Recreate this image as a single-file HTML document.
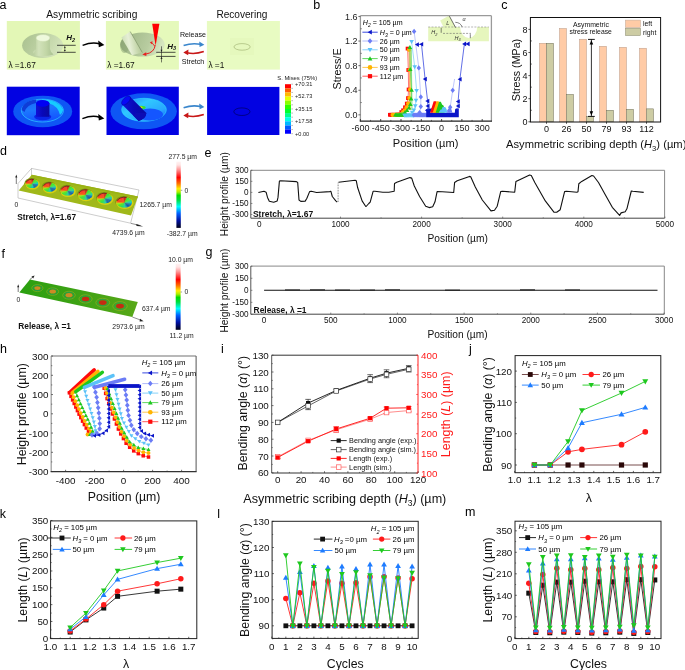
<!DOCTYPE html>
<html><head><meta charset="utf-8"><style>
html,body{margin:0;padding:0;background:#fff;}
svg{display:block;will-change:transform;}
text{font-family:"Liberation Sans", sans-serif;}
</style></head><body>
<svg width="685" height="670" viewBox="0 0 685 670">
<rect width="685" height="670" fill="#fff"/>
<text x="-0.5" y="9" font-size="12.5">a</text>
<text x="313.3" y="8.8" font-size="12.5">b</text>
<text x="501.2" y="9" font-size="12.5">c</text>
<text x="0" y="154.6" font-size="12.5">d</text>
<text x="204.5" y="156.9" font-size="12.5">e</text>
<text x="1.5" y="257.8" font-size="12.5">f</text>
<text x="205.6" y="256.2" font-size="12.5">g</text>
<text x="0" y="352.8" font-size="12.5">h</text>
<text x="221" y="352.8" font-size="12.5">i</text>
<text x="469" y="352.8" font-size="12.5">j</text>
<text x="-0.2" y="517.5" font-size="12.5">k</text>
<text x="217.2" y="517.5" font-size="12.5">l</text>
<text x="465" y="515.8" font-size="12.5">m</text>
<path d="M428.2,27 L460.2,27 A8.5,11 0 0 0 477.2,27 L488.9,27 L488.9,41.3 L428.2,41.3 Z" fill="#e6f6bd"/>
<polygon points="440.2,20.6 449.2,15.6 458.5,33.2 446.5,33.2" fill="#e6f6bd"/>
<line x1="428.2" y1="27" x2="488.9" y2="27" stroke="#888" stroke-width="0.6" stroke-dasharray="2,1.3"/>
<line x1="443" y1="33.4" x2="471" y2="33.4" stroke="#666" stroke-width="0.6" stroke-dasharray="2,1.3"/>
<line x1="449.2" y1="15.8" x2="455.6" y2="27.6" stroke="#333" stroke-width="0.7"/>
<path d="M455.3,22.3 Q460.5,22.5 462.2,27" fill="none" stroke="#333" stroke-width="0.6"/>
<text x="446.2" y="24.8" font-size="5.5" fill="#333" font-style="italic">L</text>
<text x="462.6" y="21.2" font-size="5.5" fill="#333" font-style="italic">α</text>
<text x="431.2" y="34.3" font-size="5.5" font-style="italic" fill="#333">H<tspan font-size="3.8" dy="1.3">2</tspan></text>
<line x1="441.2" y1="27.8" x2="441.2" y2="32.8" stroke="#333" stroke-width="0.6"/>
<text x="454.6" y="39.8" font-size="5.5" font-style="italic" fill="#333">H<tspan font-size="3.8" dy="1.3">3</tspan></text>
<line x1="470.3" y1="34.2" x2="470.3" y2="38.2" stroke="#333" stroke-width="0.6"/>
<polyline points="389.7,114.8 401.3,112.1 403.1,110.3 405,107.3 406.8,103.6 408,98.1 408.6,89.5 408.3,70 407.6,48.6 409.2,49 409.6,110" fill="none" stroke="#ff5a5a" stroke-width="0.8" stroke-linejoin="round"/>
<rect x="388" y="112.9" width="3.8" height="3.8" fill="#ff0a0a"/>
<rect x="389.3" y="112.9" width="3.8" height="3.8" fill="#ff0a0a"/>
<rect x="390.6" y="112.9" width="3.8" height="3.8" fill="#ff0a0a"/>
<rect x="391.9" y="112.9" width="3.8" height="3.8" fill="#ff0a0a"/>
<rect x="393.2" y="112.9" width="3.8" height="3.8" fill="#ff0a0a"/>
<rect x="394.5" y="112.9" width="3.8" height="3.8" fill="#ff0a0a"/>
<rect x="395.8" y="112.9" width="3.8" height="3.8" fill="#ff0a0a"/>
<rect x="397.1" y="112.9" width="3.8" height="3.8" fill="#ff0a0a"/>
<rect x="398.4" y="112.9" width="3.8" height="3.8" fill="#ff0a0a"/>
<rect x="399.4" y="110.2" width="3.8" height="3.8" fill="#ff0a0a"/>
<rect x="401.2" y="108.4" width="3.8" height="3.8" fill="#ff0a0a"/>
<rect x="403.1" y="105.4" width="3.8" height="3.8" fill="#ff0a0a"/>
<rect x="404.9" y="101.7" width="3.8" height="3.8" fill="#ff0a0a"/>
<rect x="406.1" y="96.2" width="3.8" height="3.8" fill="#ff0a0a"/>
<rect x="406.7" y="87.6" width="3.8" height="3.8" fill="#ff0a0a"/>
<rect x="406.4" y="68.1" width="3.8" height="3.8" fill="#ff0a0a"/>
<rect x="405.7" y="46.7" width="3.8" height="3.8" fill="#ff0a0a"/>
<polyline points="392.4,114.8 403,112.1 404.8,110.3 406.6,107.3 408.2,103.6 409.3,98.1 410,89.5 409.6,70 409,49.8 410.3,50.5 410.8,110" fill="none" stroke="#ffc850" stroke-width="0.8" stroke-linejoin="round"/>
<circle cx="392.6" cy="114.9" r="2.09" fill="#ffb400"/>
<circle cx="393.9" cy="114.9" r="2.09" fill="#ffb400"/>
<circle cx="395.2" cy="114.9" r="2.09" fill="#ffb400"/>
<circle cx="396.5" cy="114.9" r="2.09" fill="#ffb400"/>
<circle cx="397.8" cy="114.9" r="2.09" fill="#ffb400"/>
<circle cx="399.1" cy="114.9" r="2.09" fill="#ffb400"/>
<circle cx="400.4" cy="114.9" r="2.09" fill="#ffb400"/>
<circle cx="401.7" cy="114.9" r="2.09" fill="#ffb400"/>
<circle cx="403" cy="112.1" r="2.09" fill="#ffb400"/>
<circle cx="404.8" cy="110.3" r="2.09" fill="#ffb400"/>
<circle cx="406.6" cy="107.3" r="2.09" fill="#ffb400"/>
<circle cx="408.2" cy="103.6" r="2.09" fill="#ffb400"/>
<circle cx="409.3" cy="98.1" r="2.09" fill="#ffb400"/>
<circle cx="410" cy="89.5" r="2.09" fill="#ffb400"/>
<circle cx="409.6" cy="70" r="2.09" fill="#ffb400"/>
<circle cx="409" cy="49.8" r="2.09" fill="#ffb400"/>
<polyline points="395,114.8 405,112.2 407,110.2 409,107.9 410.4,104.2 411.1,98.7 411.6,90.1 410.2,69.3 409.9,47.3 411.2,48 412,110" fill="none" stroke="#60d860" stroke-width="0.8" stroke-linejoin="round"/>
<polygon points="395.4,112.6 397.7,116.6 393.1,116.6" fill="#1ec81e"/>
<polygon points="396.7,112.6 399,116.6 394.4,116.6" fill="#1ec81e"/>
<polygon points="398,112.6 400.3,116.6 395.7,116.6" fill="#1ec81e"/>
<polygon points="399.3,112.6 401.6,116.6 397,116.6" fill="#1ec81e"/>
<polygon points="400.6,112.6 402.9,116.6 398.3,116.6" fill="#1ec81e"/>
<polygon points="401.9,112.6 404.2,116.6 399.6,116.6" fill="#1ec81e"/>
<polygon points="403.2,112.6 405.5,116.6 400.9,116.6" fill="#1ec81e"/>
<polygon points="404.5,112.6 406.8,116.6 402.2,116.6" fill="#1ec81e"/>
<polygon points="405,109.9 407.3,113.9 402.7,113.9" fill="#1ec81e"/>
<polygon points="407,107.9 409.3,111.9 404.7,111.9" fill="#1ec81e"/>
<polygon points="409,105.6 411.3,109.6 406.7,109.6" fill="#1ec81e"/>
<polygon points="410.4,101.9 412.7,105.9 408.1,105.9" fill="#1ec81e"/>
<polygon points="411.1,96.4 413.4,100.4 408.8,100.4" fill="#1ec81e"/>
<polygon points="411.6,87.8 413.9,91.8 409.3,91.8" fill="#1ec81e"/>
<polygon points="410.2,67 412.5,71 407.9,71" fill="#1ec81e"/>
<polygon points="409.9,45 412.2,49 407.6,49" fill="#1ec81e"/>
<polyline points="404.3,115.2 412.2,112.4 413.9,110.3 415.3,106 416,100.5 416.6,90.7 414.7,66.9 411.6,41.6" fill="none" stroke="#86d2fa" stroke-width="0.8" stroke-linejoin="round"/>
<polygon points="404.5,117.7 406.8,113.7 402.2,113.7" fill="#5cc2f8"/>
<polygon points="405.6,117.7 407.9,113.7 403.3,113.7" fill="#5cc2f8"/>
<polygon points="406.7,117.7 409,113.7 404.4,113.7" fill="#5cc2f8"/>
<polygon points="407.8,117.7 410.1,113.7 405.5,113.7" fill="#5cc2f8"/>
<polygon points="408.9,117.7 411.2,113.7 406.6,113.7" fill="#5cc2f8"/>
<polygon points="410,117.7 412.3,113.7 407.7,113.7" fill="#5cc2f8"/>
<polygon points="411.1,117.7 413.4,113.7 408.8,113.7" fill="#5cc2f8"/>
<polygon points="412.2,117.7 414.5,113.7 409.9,113.7" fill="#5cc2f8"/>
<polygon points="413.3,117.7 415.6,113.7 411,113.7" fill="#5cc2f8"/>
<polygon points="412.2,114.7 414.5,110.7 409.9,110.7" fill="#5cc2f8"/>
<polygon points="413.9,112.6 416.2,108.6 411.6,108.6" fill="#5cc2f8"/>
<polygon points="415.3,108.3 417.6,104.3 413,104.3" fill="#5cc2f8"/>
<polygon points="416,102.8 418.3,98.8 413.7,98.8" fill="#5cc2f8"/>
<polygon points="416.6,93 418.9,89 414.3,89" fill="#5cc2f8"/>
<polygon points="414.7,69.2 417,65.2 412.4,65.2" fill="#5cc2f8"/>
<polygon points="411.6,43.9 413.9,39.9 409.3,39.9" fill="#5cc2f8"/>
<polyline points="413.5,115 419.6,112.5 420.8,106.6 420.8,96.9 418.8,67.9 414.1,31.4" fill="none" stroke="#b0bafa" stroke-width="0.8" stroke-linejoin="round"/>
<polygon points="413.8,112.4 416,115 413.8,117.6 411.6,115" fill="#6b7cf6"/>
<polygon points="414.9,112.4 417.1,115 414.9,117.6 412.7,115" fill="#6b7cf6"/>
<polygon points="416,112.4 418.2,115 416,117.6 413.8,115" fill="#6b7cf6"/>
<polygon points="417.1,112.4 419.3,115 417.1,117.6 414.9,115" fill="#6b7cf6"/>
<polygon points="418.2,112.4 420.4,115 418.2,117.6 416,115" fill="#6b7cf6"/>
<polygon points="419.3,112.4 421.5,115 419.3,117.6 417.1,115" fill="#6b7cf6"/>
<polygon points="420.4,112.4 422.6,115 420.4,117.6 418.2,115" fill="#6b7cf6"/>
<polygon points="421.5,112.4 423.7,115 421.5,117.6 419.3,115" fill="#6b7cf6"/>
<polygon points="422.6,112.4 424.8,115 422.6,117.6 420.4,115" fill="#6b7cf6"/>
<polygon points="423.7,112.4 425.9,115 423.7,117.6 421.5,115" fill="#6b7cf6"/>
<polygon points="424.8,112.4 427,115 424.8,117.6 422.6,115" fill="#6b7cf6"/>
<polygon points="425.9,112.4 428.1,115 425.9,117.6 423.7,115" fill="#6b7cf6"/>
<polygon points="419.6,109.9 421.8,112.5 419.6,115.1 417.4,112.5" fill="#6b7cf6"/>
<polygon points="420.8,104 423,106.6 420.8,109.2 418.6,106.6" fill="#6b7cf6"/>
<polygon points="420.8,94.3 423,96.9 420.8,99.5 418.6,96.9" fill="#6b7cf6"/>
<polygon points="418.8,65.3 421,67.9 418.8,70.5 416.6,67.9" fill="#6b7cf6"/>
<polygon points="414.1,28.8 416.3,31.4 414.1,34 411.9,31.4" fill="#6b7cf6"/>
<polyline points="449.2,112 449.2,110.4 450.2,107.2 452.7,90.3 454.6,79" fill="none" stroke="#b0bafa" stroke-width="0.8" stroke-linejoin="round"/>
<polygon points="449.2,107.8 451.4,110.4 449.2,113 447,110.4" fill="#6b7cf6"/>
<polygon points="450.2,104.6 452.4,107.2 450.2,109.8 448,107.2" fill="#6b7cf6"/>
<polygon points="452.7,87.7 454.9,90.3 452.7,92.9 450.5,90.3" fill="#6b7cf6"/>
<path d="M426.2,117.3 L426.2,109.5 L428.2,108.6 L429.9,109.5 L430.2,112.7 L454.8,112.7 L455.2,109 L457,108.3 L458.8,109 L458.8,117.3 Z" fill="#0a14c8"/>
<polygon points="424.81,110.2 428.62,108.02 428.62,112.39" fill="#0a14c8"/>
<polygon points="426.42,110.2 430.22,108.02 430.22,112.39" fill="#0a14c8"/>
<polygon points="428.01,110.2 431.81,108.02 431.81,112.39" fill="#0a14c8"/>
<polyline points="417.2,44.6 421.5,44.3 425.1,79.1 427.6,101.1 428,110" fill="none" stroke="#3a4ae0" stroke-width="0.8" stroke-linejoin="round"/>
<polygon points="414.9,44.6 418.9,42.3 418.9,46.9" fill="#0a14c8"/>
<polygon points="419.2,44.3 423.2,42 423.2,46.6" fill="#0a14c8"/>
<polygon points="422.8,79.1 426.8,76.8 426.8,81.4" fill="#0a14c8"/>
<polygon points="425.3,101.1 429.3,98.8 429.3,103.4" fill="#0a14c8"/>
<polygon points="425.5,106 429.5,103.7 429.5,108.3" fill="#0a14c8"/>
<polyline points="458.1,110 458.1,101.5 459.9,79.2 464.4,43.9 467.9,43.9" fill="none" stroke="#3a4ae0" stroke-width="0.8" stroke-linejoin="round"/>
<polygon points="455.8,106 459.8,103.7 459.8,108.3" fill="#0a14c8"/>
<polygon points="455.8,101.5 459.8,99.2 459.8,103.8" fill="#0a14c8"/>
<polygon points="457.6,79.2 461.6,76.9 461.6,81.5" fill="#0a14c8"/>
<polygon points="462.1,43.9 466.1,41.6 466.1,46.2" fill="#0a14c8"/>
<polygon points="465.6,43.9 469.6,41.6 469.6,46.2" fill="#0a14c8"/>
<polygon points="430,112.8 433.7,101.2 436.2,101.2 440,112.8" fill="#ff0a0a"/>
<polygon points="432.8,112.8 436.4,101.2 438.6,101.2 442.5,112.8" fill="#ffb400"/>
<polygon points="435.6,112.8 439.1,101.8 440.8,101.8 442.2,104.8 443.3,105.2 444.6,108.6 444.6,112.8" fill="#1ec81e"/>
<polygon points="438.6,112.8 440.6,109.6 441.4,109.8 442.6,107.1 445.2,107.1 446.6,109.2 447.3,112.8" fill="#5cc2f8"/>
<polygon points="446.5,112.8 448.6,109.2 449.6,107 450.8,107 451.4,109.5 452.5,112.8" fill="#6b7cf6"/>
<line x1="360.4" y1="15.7" x2="491.4" y2="15.7" stroke="#9a9a9a" stroke-width="1.3"/>
<line x1="360.4" y1="15.7" x2="360.4" y2="121.2" stroke="#9a9a9a" stroke-width="1.3"/>
<line x1="491.4" y1="15.7" x2="491.4" y2="121.2" stroke="#9a9a9a" stroke-width="1.3"/>
<line x1="359.8" y1="121.2" x2="492" y2="121.2" stroke="#222" stroke-width="1.2"/>
<line x1="358.4" y1="114.85" x2="360.4" y2="114.85" stroke="#444" stroke-width="0.8"/>
<text x="357.4" y="118.05" font-size="9" text-anchor="end" fill="#222">0.0</text>
<line x1="358.4" y1="90.25" x2="360.4" y2="90.25" stroke="#444" stroke-width="0.8"/>
<text x="357.4" y="93.45" font-size="9" text-anchor="end" fill="#222">0.4</text>
<line x1="358.4" y1="65.65" x2="360.4" y2="65.65" stroke="#444" stroke-width="0.8"/>
<text x="357.4" y="68.85" font-size="9" text-anchor="end" fill="#222">0.8</text>
<line x1="358.4" y1="41.05" x2="360.4" y2="41.05" stroke="#444" stroke-width="0.8"/>
<text x="357.4" y="44.25" font-size="9" text-anchor="end" fill="#222">1.2</text>
<line x1="358.4" y1="16.45" x2="360.4" y2="16.45" stroke="#444" stroke-width="0.8"/>
<text x="357.4" y="19.65" font-size="9" text-anchor="end" fill="#222">1.6</text>
<line x1="360.4" y1="102.55" x2="361.9" y2="102.55" stroke="#444" stroke-width="0.6"/>
<line x1="360.4" y1="77.95" x2="361.9" y2="77.95" stroke="#444" stroke-width="0.6"/>
<line x1="360.4" y1="53.35" x2="361.9" y2="53.35" stroke="#444" stroke-width="0.6"/>
<line x1="360.4" y1="28.75" x2="361.9" y2="28.75" stroke="#444" stroke-width="0.6"/>
<line x1="360.4" y1="121.2" x2="360.4" y2="119" stroke="#222" stroke-width="0.8"/>
<text x="360.4" y="131.4" font-size="9" text-anchor="middle" fill="#222">-600</text>
<line x1="380.7" y1="121.2" x2="380.7" y2="119" stroke="#222" stroke-width="0.8"/>
<text x="380.7" y="131.4" font-size="9" text-anchor="middle" fill="#222">-450</text>
<line x1="401" y1="121.2" x2="401" y2="119" stroke="#222" stroke-width="0.8"/>
<text x="401" y="131.4" font-size="9" text-anchor="middle" fill="#222">-300</text>
<line x1="421.3" y1="121.2" x2="421.3" y2="119" stroke="#222" stroke-width="0.8"/>
<text x="421.3" y="131.4" font-size="9" text-anchor="middle" fill="#222">-150</text>
<line x1="441.6" y1="121.2" x2="441.6" y2="119" stroke="#222" stroke-width="0.8"/>
<text x="441.6" y="131.4" font-size="9" text-anchor="middle" fill="#222">0</text>
<line x1="461.9" y1="121.2" x2="461.9" y2="119" stroke="#222" stroke-width="0.8"/>
<text x="461.9" y="131.4" font-size="9" text-anchor="middle" fill="#222">150</text>
<line x1="482.2" y1="121.2" x2="482.2" y2="119" stroke="#222" stroke-width="0.8"/>
<text x="482.2" y="131.4" font-size="9" text-anchor="middle" fill="#222">300</text>
<line x1="370.55" y1="121.2" x2="370.55" y2="119.9" stroke="#222" stroke-width="0.6"/>
<line x1="390.85" y1="121.2" x2="390.85" y2="119.9" stroke="#222" stroke-width="0.6"/>
<line x1="411.15" y1="121.2" x2="411.15" y2="119.9" stroke="#222" stroke-width="0.6"/>
<line x1="431.45" y1="121.2" x2="431.45" y2="119.9" stroke="#222" stroke-width="0.6"/>
<line x1="451.75" y1="121.2" x2="451.75" y2="119.9" stroke="#222" stroke-width="0.6"/>
<line x1="472.05" y1="121.2" x2="472.05" y2="119.9" stroke="#222" stroke-width="0.6"/>
<text x="341.2" y="68.9" font-size="10.9" text-anchor="middle" fill="#111" transform="rotate(-90 341.2 68.9)">Stress/E</text>
<text x="425.6" y="146.7" font-size="11.1" text-anchor="middle" fill="#111">Position (µm)</text>
<text x="362.8" y="24.6" font-size="7.1"><tspan font-style="italic">H</tspan><tspan font-size="4.97" dy="2.13" font-style="italic">2</tspan><tspan dy="-2.13"> = 105 µm</tspan></text>
<line x1="362.4" y1="32.2" x2="377.7" y2="32.2" stroke="#3a4ae0" stroke-width="1"/>
<polygon points="367.58,32.2 371.79,29.79 371.79,34.62" fill="#0a14c8"/>
<text x="379.8" y="34.7" font-size="7.1"><tspan font-style="italic">H</tspan><tspan font-size="4.97" dy="2.13" font-style="italic">3</tspan><tspan dy="-2.13"> = 0 µm</tspan></text>
<line x1="362.4" y1="41" x2="377.7" y2="41" stroke="#b0bafa" stroke-width="1"/>
<polygon points="370,38.27 372.31,41 370,43.73 367.69,41" fill="#6b7cf6"/>
<text x="379.8" y="43.5" font-size="7.1">26 µm</text>
<line x1="362.4" y1="49.8" x2="377.7" y2="49.8" stroke="#86d2fa" stroke-width="1"/>
<polygon points="370,52.22 372.42,48.02 367.58,48.02" fill="#5cc2f8"/>
<text x="379.8" y="52.3" font-size="7.1">50 µm</text>
<line x1="362.4" y1="58.6" x2="377.7" y2="58.6" stroke="#60d860" stroke-width="1"/>
<polygon points="370,56.19 372.42,60.39 367.58,60.39" fill="#1ec81e"/>
<text x="379.8" y="61.1" font-size="7.1">79 µm</text>
<line x1="362.4" y1="67.4" x2="377.7" y2="67.4" stroke="#ffc850" stroke-width="1"/>
<circle cx="370" cy="67.4" r="2.31" fill="#ffb400"/>
<text x="379.8" y="69.9" font-size="7.1">93 µm</text>
<line x1="362.4" y1="76.2" x2="377.7" y2="76.2" stroke="#ff5a5a" stroke-width="1"/>
<rect x="367.9" y="74.1" width="4.2" height="4.2" fill="#ff0a0a"/>
<text x="379.8" y="78.7" font-size="7.1">112 µm</text>
<rect x="539.5" y="43.26" width="7" height="78.54" fill="#ffcba6" stroke="#b89a88" stroke-width="0.5"/>
<rect x="546.5" y="43.26" width="7" height="78.54" fill="#cdcca4" stroke="#6e6e58" stroke-width="0.5"/>
<text x="546.5" y="131.8" font-size="9" text-anchor="middle" fill="#111">0</text>
<line x1="546.5" y1="122" x2="546.5" y2="123.8" stroke="#111" stroke-width="0.7"/>
<rect x="559.5" y="28.48" width="7" height="93.32" fill="#ffcba6" stroke="#b89a88" stroke-width="0.5"/>
<rect x="566.5" y="94.43" width="7" height="27.37" fill="#cdcca4" stroke="#6e6e58" stroke-width="0.5"/>
<text x="566.5" y="131.8" font-size="9" text-anchor="middle" fill="#111">26</text>
<line x1="566.5" y1="122" x2="566.5" y2="123.8" stroke="#111" stroke-width="0.7"/>
<rect x="579.5" y="39.22" width="7" height="82.58" fill="#ffcba6" stroke="#b89a88" stroke-width="0.5"/>
<rect x="586.5" y="116.6" width="7" height="5.2" fill="#cdcca4" stroke="#6e6e58" stroke-width="0.5"/>
<text x="586.5" y="131.8" font-size="9" text-anchor="middle" fill="#111">50</text>
<line x1="586.5" y1="122" x2="586.5" y2="123.8" stroke="#111" stroke-width="0.7"/>
<rect x="599.5" y="46.26" width="7" height="75.54" fill="#ffcba6" stroke="#b89a88" stroke-width="0.5"/>
<rect x="606.5" y="110.25" width="7" height="11.55" fill="#cdcca4" stroke="#6e6e58" stroke-width="0.5"/>
<text x="606.5" y="131.8" font-size="9" text-anchor="middle" fill="#111">79</text>
<line x1="606.5" y1="122" x2="606.5" y2="123.8" stroke="#111" stroke-width="0.7"/>
<rect x="619.5" y="47.3" width="7" height="74.5" fill="#ffcba6" stroke="#b89a88" stroke-width="0.5"/>
<rect x="626.5" y="109.33" width="7" height="12.47" fill="#cdcca4" stroke="#6e6e58" stroke-width="0.5"/>
<text x="626.5" y="131.8" font-size="9" text-anchor="middle" fill="#111">93</text>
<line x1="626.5" y1="122" x2="626.5" y2="123.8" stroke="#111" stroke-width="0.7"/>
<rect x="639.5" y="48.23" width="7" height="73.57" fill="#ffcba6" stroke="#b89a88" stroke-width="0.5"/>
<rect x="646.5" y="108.86" width="7" height="12.94" fill="#cdcca4" stroke="#6e6e58" stroke-width="0.5"/>
<text x="646.5" y="131.8" font-size="9" text-anchor="middle" fill="#111">112</text>
<line x1="646.5" y1="122" x2="646.5" y2="123.8" stroke="#111" stroke-width="0.7"/>
<line x1="528.4" y1="121.8" x2="530.4" y2="121.8" stroke="#111" stroke-width="0.7"/>
<text x="527.4" y="125" font-size="9" text-anchor="end" fill="#111">0</text>
<line x1="528.4" y1="98.7" x2="530.4" y2="98.7" stroke="#111" stroke-width="0.7"/>
<text x="527.4" y="101.9" font-size="9" text-anchor="end" fill="#111">2</text>
<line x1="528.4" y1="75.6" x2="530.4" y2="75.6" stroke="#111" stroke-width="0.7"/>
<text x="527.4" y="78.8" font-size="9" text-anchor="end" fill="#111">4</text>
<line x1="528.4" y1="52.5" x2="530.4" y2="52.5" stroke="#111" stroke-width="0.7"/>
<text x="527.4" y="55.7" font-size="9" text-anchor="end" fill="#111">6</text>
<line x1="528.4" y1="29.4" x2="530.4" y2="29.4" stroke="#111" stroke-width="0.7"/>
<text x="527.4" y="32.6" font-size="9" text-anchor="end" fill="#111">8</text>
<line x1="530.4" y1="110.25" x2="531.9" y2="110.25" stroke="#111" stroke-width="0.6"/>
<line x1="530.4" y1="87.15" x2="531.9" y2="87.15" stroke="#111" stroke-width="0.6"/>
<line x1="530.4" y1="64.05" x2="531.9" y2="64.05" stroke="#111" stroke-width="0.6"/>
<line x1="530.4" y1="40.95" x2="531.9" y2="40.95" stroke="#111" stroke-width="0.6"/>
<rect x="530.4" y="17.5" width="130.2" height="104.5" fill="none" stroke="#111" stroke-width="1"/>
<line x1="591.4" y1="39.5" x2="591.4" y2="116.2" stroke="#000" stroke-width="0.8"/>
<line x1="588" y1="39.4" x2="594.8" y2="39.4" stroke="#000" stroke-width="0.9"/>
<line x1="588" y1="116.4" x2="594.8" y2="116.4" stroke="#000" stroke-width="0.9"/>
<polygon points="591.4,40.2 589.6,44.6 593.2,44.6" fill="#000"/>
<polygon points="591.4,115.6 589.6,111.2 593.2,111.2" fill="#000"/>
<text x="590.9" y="26.6" font-size="6.9" text-anchor="middle" fill="#111">Asymmetric</text>
<text x="590.7" y="34.4" font-size="6.8" text-anchor="middle" fill="#111">stress release</text>
<rect x="625.4" y="20.1" width="15.1" height="7.4" fill="#ffcba6" stroke="#c0a898" stroke-width="0.5"/>
<rect x="625.4" y="28.2" width="15.1" height="7.4" fill="#cdcca4" stroke="#8a8a70" stroke-width="0.5"/>
<text x="642.9" y="26.2" font-size="6.9" fill="#111">left</text>
<text x="642.9" y="34.6" font-size="6.9" fill="#111">right</text>
<text x="519.9" y="70" font-size="10.7" text-anchor="middle" fill="#111" transform="rotate(-90 519.9 70)">Stress (MPa)</text>
<text x="596.2" y="148" font-size="11.2" text-anchor="middle" fill="#111">Asymmetric scribing depth (<tspan font-style="italic">H</tspan><tspan font-size="7.6" dy="2.8">3</tspan><tspan dy="-2.8">) (µm)</tspan></text>
<polyline points="258.4,192.5 264,191.3 266.1,192.2 267.5,197.4 269.3,201.3 273.7,202.3 277.2,200.9 278,197.4 279.4,181.1 280.7,180.8 296.4,181.6 297.7,182.5 299,200 300.8,201.4 305.2,201.1 306.9,198.3 309.6,191.6 311.3,191.3 316.6,192.5 329.7,191.6 330.9,191.3 332.3,196.5 335.8,200.9 337.2,202.1" fill="none" stroke="#111" stroke-width="1.1" stroke-linejoin="round"/>
<line x1="338.1" y1="202" x2="338.1" y2="182.5" stroke="#111" stroke-width="0.6" stroke-dasharray="0.8,0.8"/>
<polyline points="338.5,182.2 355.1,180.2 356.3,180.8 357.7,187.8 362.1,200.9 365.6,206.2 366.1,206.5 368.8,203.5 370.2,202.1 373.1,191.3 374.9,191.3 382.8,192.2 388.9,192.2 394.2,191.3 394.5,183.4 396.8,182.2 409.9,177.6 411.7,178.1 414.3,186 419.6,196.5 425.7,206.2 429.2,207.6 432.7,206.7 435,201.8 437.1,191.6 442.3,191.8 453.7,192.5 454.6,182.5 457.2,180.8 469.5,176.4 470.7,176.7 475.3,186.9 482.3,200 491,210.9 494.5,210.2 497.2,206.2 500.7,191.6 502.4,191.3 514.7,192.2 515.9,181.6 519.1,179.9 529.6,175 531.3,175.5 534.8,182.5 545.3,200.9 554.1,212.3 556.7,212.3 560.2,209.7 564.6,191.6 566.4,191.3 576.9,192.2 578,191.7 578.8,183.7 581.7,181.4 591.9,175.5 593.6,176 598.5,182.5 605,194.2 612.3,207.3 619.6,215.4 621.1,212.9 625.2,211.7 626.9,208.8 631.3,191 632.8,191.3 643.7,192.4" fill="none" stroke="#111" stroke-width="1.1" stroke-linejoin="round"/>
<line x1="250.8" y1="170.3" x2="664.6" y2="170.3" stroke="#a0a0a0" stroke-width="1.2"/>
<line x1="664.6" y1="170.3" x2="664.6" y2="218.2" stroke="#888" stroke-width="1"/>
<line x1="250.8" y1="170.3" x2="250.8" y2="218.2" stroke="#555" stroke-width="1"/>
<line x1="250.8" y1="218.2" x2="664.6" y2="218.2" stroke="#444" stroke-width="1"/>
<line x1="250.8" y1="170.29" x2="252.4" y2="170.29" stroke="#444" stroke-width="0.6"/>
<text x="248.6" y="173.19" font-size="8.2" text-anchor="end" fill="#111">300</text>
<line x1="250.8" y1="181.34" x2="252.4" y2="181.34" stroke="#444" stroke-width="0.6"/>
<text x="248.6" y="184.25" font-size="8.2" text-anchor="end" fill="#111">150</text>
<line x1="250.8" y1="192.4" x2="252.4" y2="192.4" stroke="#444" stroke-width="0.6"/>
<text x="248.6" y="195.3" font-size="8.2" text-anchor="end" fill="#111">0</text>
<line x1="250.8" y1="203.46" x2="252.4" y2="203.46" stroke="#444" stroke-width="0.6"/>
<text x="248.6" y="206.36" font-size="8.2" text-anchor="end" fill="#111">-150</text>
<line x1="250.8" y1="214.51" x2="252.4" y2="214.51" stroke="#444" stroke-width="0.6"/>
<text x="248.6" y="217.41" font-size="8.2" text-anchor="end" fill="#111">-300</text>
<line x1="259.4" y1="218.2" x2="259.4" y2="216.6" stroke="#444" stroke-width="0.6"/>
<text x="259.4" y="227" font-size="8.2" text-anchor="middle" fill="#111">0</text>
<line x1="340.5" y1="218.2" x2="340.5" y2="216.6" stroke="#444" stroke-width="0.6"/>
<text x="340.5" y="227" font-size="8.2" text-anchor="middle" fill="#111">1000</text>
<line x1="421.6" y1="218.2" x2="421.6" y2="216.6" stroke="#444" stroke-width="0.6"/>
<text x="421.6" y="227" font-size="8.2" text-anchor="middle" fill="#111">2000</text>
<line x1="502.7" y1="218.2" x2="502.7" y2="216.6" stroke="#444" stroke-width="0.6"/>
<text x="502.7" y="227" font-size="8.2" text-anchor="middle" fill="#111">3000</text>
<line x1="583.8" y1="218.2" x2="583.8" y2="216.6" stroke="#444" stroke-width="0.6"/>
<text x="583.8" y="227" font-size="8.2" text-anchor="middle" fill="#111">4000</text>
<line x1="664.9" y1="218.2" x2="664.9" y2="216.6" stroke="#444" stroke-width="0.6"/>
<text x="664.9" y="227" font-size="8.2" text-anchor="middle" fill="#111">5000</text>
<line x1="299.95" y1="218.2" x2="299.95" y2="217.2" stroke="#444" stroke-width="0.5"/>
<line x1="381.05" y1="218.2" x2="381.05" y2="217.2" stroke="#444" stroke-width="0.5"/>
<line x1="462.15" y1="218.2" x2="462.15" y2="217.2" stroke="#444" stroke-width="0.5"/>
<line x1="543.25" y1="218.2" x2="543.25" y2="217.2" stroke="#444" stroke-width="0.5"/>
<line x1="624.35" y1="218.2" x2="624.35" y2="217.2" stroke="#444" stroke-width="0.5"/>
<text x="252.9" y="216.8" font-size="8.5" fill="#111" font-weight="bold">Stretch, λ=1.67</text>
<text x="228.4" y="194.2" font-size="10.2" text-anchor="middle" fill="#111" transform="rotate(-90 228.4 194.2)">Height profile (µm)</text>
<text x="457.7" y="242.2" font-size="10.2" text-anchor="middle" fill="#111">Position (µm)</text>
<line x1="264.1" y1="290.3" x2="657.5" y2="290.3" stroke="#111" stroke-width="1.1"/>
<line x1="285" y1="289.9" x2="300" y2="289.9" stroke="#111" stroke-width="0.9"/>
<line x1="310" y1="289.8" x2="325" y2="289.8" stroke="#111" stroke-width="0.9"/>
<line x1="335" y1="290" x2="350" y2="290" stroke="#111" stroke-width="0.9"/>
<line x1="360" y1="290" x2="375" y2="290" stroke="#111" stroke-width="0.9"/>
<line x1="385" y1="289.8" x2="400" y2="289.8" stroke="#111" stroke-width="0.9"/>
<line x1="445" y1="290.1" x2="460" y2="290.1" stroke="#111" stroke-width="0.9"/>
<line x1="520" y1="289.8" x2="535" y2="289.8" stroke="#111" stroke-width="0.9"/>
<line x1="565" y1="289.9" x2="580" y2="289.9" stroke="#111" stroke-width="0.9"/>
<line x1="250.8" y1="266.1" x2="664.3" y2="266.1" stroke="#888" stroke-width="1"/>
<line x1="664.3" y1="266.1" x2="664.3" y2="314.2" stroke="#888" stroke-width="1"/>
<line x1="250.8" y1="266.1" x2="250.8" y2="314.2" stroke="#555" stroke-width="1"/>
<line x1="250.8" y1="314.2" x2="664.3" y2="314.2" stroke="#444" stroke-width="1"/>
<line x1="250.8" y1="266.24" x2="252.4" y2="266.24" stroke="#444" stroke-width="0.6"/>
<text x="248.6" y="269.14" font-size="8.2" text-anchor="end" fill="#111">300</text>
<line x1="250.8" y1="278.27" x2="252.4" y2="278.27" stroke="#444" stroke-width="0.6"/>
<text x="248.6" y="281.17" font-size="8.2" text-anchor="end" fill="#111">150</text>
<line x1="250.8" y1="290.3" x2="252.4" y2="290.3" stroke="#444" stroke-width="0.6"/>
<text x="248.6" y="293.2" font-size="8.2" text-anchor="end" fill="#111">0</text>
<line x1="250.8" y1="302.33" x2="252.4" y2="302.33" stroke="#444" stroke-width="0.6"/>
<text x="248.6" y="305.23" font-size="8.2" text-anchor="end" fill="#111">-150</text>
<line x1="250.8" y1="314.36" x2="252.4" y2="314.36" stroke="#444" stroke-width="0.6"/>
<text x="248.6" y="317.26" font-size="8.2" text-anchor="end" fill="#111">-300</text>
<line x1="264.1" y1="314.2" x2="264.1" y2="312.6" stroke="#444" stroke-width="0.6"/>
<text x="264.1" y="323.2" font-size="8.2" text-anchor="middle" fill="#111">0</text>
<line x1="330.77" y1="314.2" x2="330.77" y2="312.6" stroke="#444" stroke-width="0.6"/>
<text x="330.77" y="323.2" font-size="8.2" text-anchor="middle" fill="#111">500</text>
<line x1="397.43" y1="314.2" x2="397.43" y2="312.6" stroke="#444" stroke-width="0.6"/>
<text x="397.43" y="323.2" font-size="8.2" text-anchor="middle" fill="#111">1000</text>
<line x1="464.1" y1="314.2" x2="464.1" y2="312.6" stroke="#444" stroke-width="0.6"/>
<text x="464.1" y="323.2" font-size="8.2" text-anchor="middle" fill="#111">1500</text>
<line x1="530.76" y1="314.2" x2="530.76" y2="312.6" stroke="#444" stroke-width="0.6"/>
<text x="530.76" y="323.2" font-size="8.2" text-anchor="middle" fill="#111">2000</text>
<line x1="597.42" y1="314.2" x2="597.42" y2="312.6" stroke="#444" stroke-width="0.6"/>
<text x="597.42" y="323.2" font-size="8.2" text-anchor="middle" fill="#111">2500</text>
<line x1="664.09" y1="314.2" x2="664.09" y2="312.6" stroke="#444" stroke-width="0.6"/>
<text x="664.09" y="323.2" font-size="8.2" text-anchor="middle" fill="#111">3000</text>
<line x1="297.43" y1="314.2" x2="297.43" y2="313.2" stroke="#444" stroke-width="0.5"/>
<line x1="364.1" y1="314.2" x2="364.1" y2="313.2" stroke="#444" stroke-width="0.5"/>
<line x1="430.76" y1="314.2" x2="430.76" y2="313.2" stroke="#444" stroke-width="0.5"/>
<line x1="497.43" y1="314.2" x2="497.43" y2="313.2" stroke="#444" stroke-width="0.5"/>
<line x1="564.09" y1="314.2" x2="564.09" y2="313.2" stroke="#444" stroke-width="0.5"/>
<line x1="630.76" y1="314.2" x2="630.76" y2="313.2" stroke="#444" stroke-width="0.5"/>
<text x="253.6" y="313.3" font-size="8.4" fill="#111" font-weight="bold">Release, λ =1</text>
<text x="228.4" y="290.5" font-size="10.2" text-anchor="middle" fill="#111" transform="rotate(-90 228.4 290.5)">Height profile (µm)</text>
<text x="457.5" y="337.7" font-size="10.2" text-anchor="middle" fill="#111">Position (µm)</text>
<polyline points="104.2,388.2 107.5,400 111.7,412.1 119.4,431.6 127.2,445.1 135,452 142,455.5 148.5,457" fill="none" stroke="#ff5a5a" stroke-width="0.9" stroke-linejoin="round"/>
<rect x="102.45" y="386.45" width="3.5" height="3.5" fill="#ff0a0a"/>
<rect x="103.91" y="391.66" width="3.5" height="3.5" fill="#ff0a0a"/>
<rect x="105.36" y="396.87" width="3.5" height="3.5" fill="#ff0a0a"/>
<rect x="107.05" y="402" width="3.5" height="3.5" fill="#ff0a0a"/>
<rect x="108.83" y="407.11" width="3.5" height="3.5" fill="#ff0a0a"/>
<rect x="110.68" y="412.19" width="3.5" height="3.5" fill="#ff0a0a"/>
<rect x="112.66" y="417.22" width="3.5" height="3.5" fill="#ff0a0a"/>
<rect x="114.65" y="422.25" width="3.5" height="3.5" fill="#ff0a0a"/>
<rect x="116.64" y="427.28" width="3.5" height="3.5" fill="#ff0a0a"/>
<rect x="118.97" y="432.14" width="3.5" height="3.5" fill="#ff0a0a"/>
<rect x="121.68" y="436.82" width="3.5" height="3.5" fill="#ff0a0a"/>
<rect x="124.38" y="441.51" width="3.5" height="3.5" fill="#ff0a0a"/>
<rect x="127.91" y="445.52" width="3.5" height="3.5" fill="#ff0a0a"/>
<rect x="131.96" y="449.11" width="3.5" height="3.5" fill="#ff0a0a"/>
<rect x="136.54" y="451.9" width="3.5" height="3.5" fill="#ff0a0a"/>
<rect x="141.48" y="454.03" width="3.5" height="3.5" fill="#ff0a0a"/>
<rect x="146.75" y="455.25" width="3.5" height="3.5" fill="#ff0a0a"/>
<polyline points="105.5,388 109,400 113.2,411 120.6,429.5 128.2,443 136,449.5 142,452 148.5,453" fill="none" stroke="#ffc850" stroke-width="0.9" stroke-linejoin="round"/>
<circle cx="105.5" cy="388" r="1.93" fill="#ffb400"/>
<circle cx="106.95" cy="392.98" r="1.93" fill="#ffb400"/>
<circle cx="108.4" cy="397.95" r="1.93" fill="#ffb400"/>
<circle cx="110.09" cy="402.85" r="1.93" fill="#ffb400"/>
<circle cx="111.94" cy="407.69" r="1.93" fill="#ffb400"/>
<circle cx="113.81" cy="412.52" r="1.93" fill="#ffb400"/>
<circle cx="115.73" cy="417.33" r="1.93" fill="#ffb400"/>
<circle cx="117.66" cy="422.15" r="1.93" fill="#ffb400"/>
<circle cx="119.58" cy="426.96" r="1.93" fill="#ffb400"/>
<circle cx="121.8" cy="431.63" r="1.93" fill="#ffb400"/>
<circle cx="124.34" cy="436.15" r="1.93" fill="#ffb400"/>
<circle cx="126.88" cy="440.66" r="1.93" fill="#ffb400"/>
<circle cx="130.12" cy="444.6" r="1.93" fill="#ffb400"/>
<circle cx="134.1" cy="447.92" r="1.93" fill="#ffb400"/>
<circle cx="138.5" cy="450.54" r="1.93" fill="#ffb400"/>
<circle cx="143.38" cy="452.21" r="1.93" fill="#ffb400"/>
<circle cx="148.5" cy="453" r="1.93" fill="#ffb400"/>
<polyline points="107.5,388.8 114.6,408.3 121.4,427.7 129.1,441.3 136.9,447.1 148.5,449.6" fill="none" stroke="#60d860" stroke-width="0.9" stroke-linejoin="round"/>
<polygon points="107.5,386.79 109.51,390.29 105.49,390.29" fill="#1ec81e"/>
<polygon points="109.29,391.71 111.3,395.21 107.28,395.21" fill="#1ec81e"/>
<polygon points="111.08,396.63 113.09,400.13 109.07,400.13" fill="#1ec81e"/>
<polygon points="112.87,401.54 114.89,405.04 110.86,405.04" fill="#1ec81e"/>
<polygon points="114.66,406.46 116.67,409.96 112.65,409.96" fill="#1ec81e"/>
<polygon points="116.39,411.4 118.41,414.9 114.38,414.9" fill="#1ec81e"/>
<polygon points="118.13,416.35 120.14,419.85 116.11,419.85" fill="#1ec81e"/>
<polygon points="119.86,421.29 121.87,424.79 117.84,424.79" fill="#1ec81e"/>
<polygon points="121.68,426.18 123.69,429.68 119.67,429.68" fill="#1ec81e"/>
<polygon points="124.26,430.74 126.27,434.24 122.25,434.24" fill="#1ec81e"/>
<polygon points="126.84,435.29 128.85,438.79 124.83,438.79" fill="#1ec81e"/>
<polygon points="129.62,439.67 131.63,443.17 127.61,443.17" fill="#1ec81e"/>
<polygon points="133.82,442.8 135.83,446.3 131.81,446.3" fill="#1ec81e"/>
<polygon points="138.27,445.38 140.28,448.88 136.25,448.88" fill="#1ec81e"/>
<polygon points="143.38,446.48 145.4,449.98 141.37,449.98" fill="#1ec81e"/>
<polygon points="148.5,447.59 150.51,451.09 146.49,451.09" fill="#1ec81e"/>
<polyline points="115.5,389.8 118,402 122.3,420 131,435.4 138.8,441.3 148.5,445.1" fill="none" stroke="#86d2fa" stroke-width="0.9" stroke-linejoin="round"/>
<polygon points="115.5,391.81 117.51,388.31 113.49,388.31" fill="#5cc2f8"/>
<polygon points="116.49,396.63 118.5,393.13 114.47,393.13" fill="#5cc2f8"/>
<polygon points="117.47,401.45 119.49,397.95 115.46,397.95" fill="#5cc2f8"/>
<polygon points="118.53,406.25 120.55,402.75 116.52,402.75" fill="#5cc2f8"/>
<polygon points="119.68,411.03 121.69,407.53 117.66,407.53" fill="#5cc2f8"/>
<polygon points="120.82,415.81 122.83,412.31 118.81,412.31" fill="#5cc2f8"/>
<polygon points="121.96,420.6 123.97,417.1 119.95,417.1" fill="#5cc2f8"/>
<polygon points="124,425.03 126.02,421.53 121.99,421.53" fill="#5cc2f8"/>
<polygon points="126.42,429.31 128.43,425.81 124.41,425.81" fill="#5cc2f8"/>
<polygon points="128.84,433.59 130.85,430.09 126.83,430.09" fill="#5cc2f8"/>
<polygon points="131.42,437.73 133.43,434.23 129.41,434.23" fill="#5cc2f8"/>
<polygon points="135.34,440.7 137.36,437.2 133.33,437.2" fill="#5cc2f8"/>
<polygon points="139.34,443.53 141.36,440.03 137.33,440.03" fill="#5cc2f8"/>
<polygon points="143.92,445.32 145.93,441.82 141.91,441.82" fill="#5cc2f8"/>
<polygon points="148.5,447.11 150.51,443.61 146.49,443.61" fill="#5cc2f8"/>
<polyline points="125.2,389.8 127,402 128.2,414 132,427.7 138.8,435.4 145,438.5 150.9,440.3" fill="none" stroke="#b0bafa" stroke-width="0.9" stroke-linejoin="round"/>
<polygon points="125.2,387.07 127.51,389.8 125.2,392.53 122.89,389.8" fill="#6b7cf6"/>
<polygon points="125.95,392.18 128.26,394.91 125.95,397.64 123.64,394.91" fill="#6b7cf6"/>
<polygon points="126.71,397.29 129.02,400.02 126.71,402.75 124.4,400.02" fill="#6b7cf6"/>
<polygon points="127.31,402.42 129.62,405.15 127.31,407.88 125,405.15" fill="#6b7cf6"/>
<polygon points="127.83,407.56 130.14,410.29 127.83,413.02 125.52,410.29" fill="#6b7cf6"/>
<polygon points="128.58,412.65 130.89,415.38 128.58,418.11 126.27,415.38" fill="#6b7cf6"/>
<polygon points="129.96,417.63 132.27,420.36 129.96,423.09 127.65,420.36" fill="#6b7cf6"/>
<polygon points="131.34,422.61 133.65,425.34 131.34,428.07 129.03,425.34" fill="#6b7cf6"/>
<polygon points="133.8,427 136.11,429.73 133.8,432.46 131.49,429.73" fill="#6b7cf6"/>
<polygon points="137.21,430.87 139.52,433.6 137.21,436.33 134.9,433.6" fill="#6b7cf6"/>
<polygon points="141.28,433.91 143.59,436.64 141.28,439.37 138.97,436.64" fill="#6b7cf6"/>
<polygon points="145.96,436.06 148.27,438.79 145.96,441.52 143.65,438.79" fill="#6b7cf6"/>
<polygon points="150.9,437.57 153.21,440.3 150.9,443.03 148.59,440.3" fill="#6b7cf6"/>
<polyline points="139.6,386.5 139.6,405 139.7,428.9 143,432.8 148,434.6 152.5,435.8" fill="none" stroke="#3a4ae0" stroke-width="0.9" stroke-linejoin="round"/>
<polygon points="137.59,386.5 141.09,384.49 141.09,388.51" fill="#0a14c8"/>
<polygon points="137.59,390.61 141.09,388.59 141.09,392.62" fill="#0a14c8"/>
<polygon points="137.59,394.71 141.09,392.7 141.09,396.72" fill="#0a14c8"/>
<polygon points="137.59,398.82 141.09,396.8 141.09,400.83" fill="#0a14c8"/>
<polygon points="137.59,402.92 141.09,400.91 141.09,404.94" fill="#0a14c8"/>
<polygon points="137.6,407.03 141.1,405.02 141.1,409.04" fill="#0a14c8"/>
<polygon points="137.61,411.13 141.11,409.12 141.11,413.15" fill="#0a14c8"/>
<polygon points="137.63,415.24 141.13,413.23 141.13,417.25" fill="#0a14c8"/>
<polygon points="137.65,419.35 141.15,417.33 141.15,421.36" fill="#0a14c8"/>
<polygon points="137.66,423.45 141.16,421.44 141.16,425.46" fill="#0a14c8"/>
<polygon points="137.68,427.56 141.18,425.54 141.18,429.57" fill="#0a14c8"/>
<polygon points="139.47,431.01 142.97,429 142.97,433.02" fill="#0a14c8"/>
<polygon points="142.64,433.4 146.14,431.38 146.14,435.41" fill="#0a14c8"/>
<polygon points="146.52,434.74 150.02,432.73 150.02,436.75" fill="#0a14c8"/>
<polygon points="150.49,435.8 153.99,433.79 153.99,437.81" fill="#0a14c8"/>
<polyline points="69.4,392.8 74,403 78.5,413 83,422 86.5,428.5 88.5,431.2" fill="none" stroke="#ff5a5a" stroke-width="0.9" stroke-linejoin="round"/>
<rect x="67.65" y="391.05" width="3.5" height="3.5" fill="#ff0a0a"/>
<rect x="69.26" y="394.61" width="3.5" height="3.5" fill="#ff0a0a"/>
<rect x="70.86" y="398.17" width="3.5" height="3.5" fill="#ff0a0a"/>
<rect x="72.47" y="401.73" width="3.5" height="3.5" fill="#ff0a0a"/>
<rect x="74.07" y="405.29" width="3.5" height="3.5" fill="#ff0a0a"/>
<rect x="75.67" y="408.85" width="3.5" height="3.5" fill="#ff0a0a"/>
<rect x="77.32" y="412.39" width="3.5" height="3.5" fill="#ff0a0a"/>
<rect x="79.07" y="415.89" width="3.5" height="3.5" fill="#ff0a0a"/>
<rect x="80.81" y="419.38" width="3.5" height="3.5" fill="#ff0a0a"/>
<rect x="82.64" y="422.83" width="3.5" height="3.5" fill="#ff0a0a"/>
<rect x="84.49" y="426.27" width="3.5" height="3.5" fill="#ff0a0a"/>
<rect x="86.75" y="429.45" width="3.5" height="3.5" fill="#ff0a0a"/>
<polyline points="71.8,393.2 76.5,403.5 81,413.5 85.5,422.5 89.5,429.5 91.4,431.4 87.5,434.5" fill="none" stroke="#ffc850" stroke-width="0.9" stroke-linejoin="round"/>
<circle cx="71.8" cy="393.2" r="1.93" fill="#ffb400"/>
<circle cx="73.61" cy="397.18" r="1.93" fill="#ffb400"/>
<circle cx="75.43" cy="401.15" r="1.93" fill="#ffb400"/>
<circle cx="77.24" cy="405.13" r="1.93" fill="#ffb400"/>
<circle cx="79.03" cy="409.12" r="1.93" fill="#ffb400"/>
<circle cx="80.82" cy="413.11" r="1.93" fill="#ffb400"/>
<circle cx="82.76" cy="417.02" r="1.93" fill="#ffb400"/>
<circle cx="84.72" cy="420.93" r="1.93" fill="#ffb400"/>
<circle cx="86.8" cy="424.77" r="1.93" fill="#ffb400"/>
<circle cx="88.97" cy="428.57" r="1.93" fill="#ffb400"/>
<circle cx="90.92" cy="431.78" r="1.93" fill="#ffb400"/>
<circle cx="87.5" cy="434.5" r="1.93" fill="#ffb400"/>
<polyline points="75.3,391.8 80,402.5 84.5,412.5 89,422 92.8,431.1 90,434.5" fill="none" stroke="#60d860" stroke-width="0.9" stroke-linejoin="round"/>
<polygon points="75.3,389.79 77.31,393.29 73.29,393.29" fill="#1ec81e"/>
<polygon points="77.03,393.74 79.05,397.24 75.02,397.24" fill="#1ec81e"/>
<polygon points="78.77,397.68 80.78,401.18 76.76,401.18" fill="#1ec81e"/>
<polygon points="80.51,401.63 82.52,405.13 78.5,405.13" fill="#1ec81e"/>
<polygon points="82.28,405.56 84.29,409.06 80.27,409.06" fill="#1ec81e"/>
<polygon points="84.05,409.49 86.06,412.99 82.04,412.99" fill="#1ec81e"/>
<polygon points="85.88,413.4 87.89,416.9 83.87,416.9" fill="#1ec81e"/>
<polygon points="87.72,417.29 89.74,420.79 85.71,420.79" fill="#1ec81e"/>
<polygon points="89.51,421.22 91.53,424.72 87.5,424.72" fill="#1ec81e"/>
<polygon points="91.17,425.19 93.19,428.69 89.16,428.69" fill="#1ec81e"/>
<polygon points="92.74,429.16 94.75,432.66 90.73,432.66" fill="#1ec81e"/>
<polygon points="90,432.49 92.01,435.99 87.99,435.99" fill="#1ec81e"/>
<polyline points="84,387.4 87,399 90.5,410 93.5,420.5 95.8,430.4 93,434.5" fill="none" stroke="#86d2fa" stroke-width="0.9" stroke-linejoin="round"/>
<polygon points="84,389.41 86.01,385.91 81.99,385.91" fill="#5cc2f8"/>
<polygon points="85.13,393.78 87.14,390.28 83.12,390.28" fill="#5cc2f8"/>
<polygon points="86.26,398.14 88.27,394.64 84.24,394.64" fill="#5cc2f8"/>
<polygon points="87.47,402.48 89.48,398.98 85.45,398.98" fill="#5cc2f8"/>
<polygon points="88.83,406.77 90.85,403.27 86.82,403.27" fill="#5cc2f8"/>
<polygon points="90.2,411.07 92.21,407.57 88.19,407.57" fill="#5cc2f8"/>
<polygon points="91.47,415.39 93.48,411.89 89.45,411.89" fill="#5cc2f8"/>
<polygon points="92.7,419.73 94.72,416.23 90.69,416.23" fill="#5cc2f8"/>
<polygon points="93.86,424.08 95.88,420.58 91.85,420.58" fill="#5cc2f8"/>
<polygon points="94.88,428.47 96.9,424.97 92.87,424.97" fill="#5cc2f8"/>
<polygon points="95.54,432.79 97.55,429.29 93.53,429.29" fill="#5cc2f8"/>
<polygon points="93,436.51 95.01,433.01 90.99,433.01" fill="#5cc2f8"/>
<polyline points="94.2,387 96.5,396.5 98,406.3 99.3,417 100.1,428.2 96.5,433.8 92,435" fill="none" stroke="#b0bafa" stroke-width="0.9" stroke-linejoin="round"/>
<polygon points="94.2,384.27 96.51,387 94.2,389.73 91.89,387" fill="#6b7cf6"/>
<polygon points="95.45,389.42 97.76,392.15 95.45,394.88 93.14,392.15" fill="#6b7cf6"/>
<polygon points="96.63,394.59 98.94,397.32 96.63,400.05 94.32,397.32" fill="#6b7cf6"/>
<polygon points="97.43,399.83 99.74,402.56 97.43,405.29 95.12,402.56" fill="#6b7cf6"/>
<polygon points="98.18,405.07 100.49,407.8 98.18,410.53 95.87,407.8" fill="#6b7cf6"/>
<polygon points="98.82,410.34 101.13,413.07 98.82,415.8 96.51,413.07" fill="#6b7cf6"/>
<polygon points="99.4,415.61 101.71,418.34 99.4,421.07 97.09,418.34" fill="#6b7cf6"/>
<polygon points="99.77,420.89 102.08,423.62 99.77,426.35 97.46,423.62" fill="#6b7cf6"/>
<polygon points="99.71,426.07 102.02,428.8 99.71,431.53 97.4,428.8" fill="#6b7cf6"/>
<polygon points="96.85,430.53 99.16,433.26 96.85,435.99 94.54,433.26" fill="#6b7cf6"/>
<polygon points="92,432.27 94.31,435 92,437.73 89.69,435" fill="#6b7cf6"/>
<polyline points="108.5,386.5 108.6,405 108.7,428 104.5,432.5 99.5,434.8 94.5,435.8" fill="none" stroke="#3a4ae0" stroke-width="0.9" stroke-linejoin="round"/>
<polygon points="106.49,386.5 109.99,384.49 109.99,388.51" fill="#0a14c8"/>
<polygon points="106.51,390.98 110.01,388.97 110.01,392.99" fill="#0a14c8"/>
<polygon points="106.54,395.46 110.04,393.45 110.04,397.48" fill="#0a14c8"/>
<polygon points="106.56,399.94 110.06,397.93 110.06,401.96" fill="#0a14c8"/>
<polygon points="106.58,404.43 110.08,402.41 110.08,406.44" fill="#0a14c8"/>
<polygon points="106.6,408.91 110.1,406.89 110.1,410.92" fill="#0a14c8"/>
<polygon points="106.62,413.39 110.12,411.38 110.12,415.4" fill="#0a14c8"/>
<polygon points="106.64,417.87 110.14,415.86 110.14,419.88" fill="#0a14c8"/>
<polygon points="106.66,422.35 110.16,420.34 110.16,424.36" fill="#0a14c8"/>
<polygon points="106.68,426.83 110.18,424.82 110.18,428.84" fill="#0a14c8"/>
<polygon points="104.43,430.42 107.93,428.41 107.93,432.44" fill="#0a14c8"/>
<polygon points="101,433.19 104.5,431.17 104.5,435.2" fill="#0a14c8"/>
<polygon points="96.88,434.92 100.38,432.91 100.38,436.93" fill="#0a14c8"/>
<polygon points="92.49,435.8 95.99,433.79 95.99,437.81" fill="#0a14c8"/>
<line x1="94.2" y1="369.9" x2="69.6" y2="392.5" stroke="#ff0a0a" stroke-width="3.6" stroke-linecap="round"/>
<line x1="97.9" y1="371.4" x2="72.2" y2="393" stroke="#ffb400" stroke-width="3.6" stroke-linecap="round"/>
<line x1="102.3" y1="372.4" x2="75.8" y2="391.6" stroke="#1ec81e" stroke-width="3.6" stroke-linecap="round"/>
<line x1="113" y1="375.6" x2="84.4" y2="387.4" stroke="#5cc2f8" stroke-width="3.6" stroke-linecap="round"/>
<line x1="124.6" y1="379.3" x2="94.6" y2="387.2" stroke="#6b7cf6" stroke-width="3.6" stroke-linecap="round"/>
<line x1="108.4" y1="386" x2="139.7" y2="386" stroke="#0a14c8" stroke-width="3.8"/>
<line x1="51.2" y1="356" x2="196.1" y2="356" stroke="#a0a0a0" stroke-width="1.3"/>
<line x1="51.2" y1="356" x2="51.2" y2="471.6" stroke="#a0a0a0" stroke-width="1.3"/>
<line x1="196.1" y1="356" x2="196.1" y2="471.6" stroke="#555" stroke-width="1"/>
<line x1="50.6" y1="471.6" x2="196.6" y2="471.6" stroke="#333" stroke-width="1.1"/>
<line x1="51.2" y1="471.55" x2="53" y2="471.55" stroke="#333" stroke-width="0.7"/>
<text x="48.6" y="475.05" font-size="9.9" text-anchor="end" fill="#111">-300</text>
<line x1="51.2" y1="452.3" x2="53" y2="452.3" stroke="#333" stroke-width="0.7"/>
<text x="48.6" y="455.8" font-size="9.9" text-anchor="end" fill="#111">-200</text>
<line x1="51.2" y1="433.05" x2="53" y2="433.05" stroke="#333" stroke-width="0.7"/>
<text x="48.6" y="436.55" font-size="9.9" text-anchor="end" fill="#111">-100</text>
<line x1="51.2" y1="413.8" x2="53" y2="413.8" stroke="#333" stroke-width="0.7"/>
<text x="48.6" y="417.3" font-size="9.9" text-anchor="end" fill="#111">0</text>
<line x1="51.2" y1="394.55" x2="53" y2="394.55" stroke="#333" stroke-width="0.7"/>
<text x="48.6" y="398.05" font-size="9.9" text-anchor="end" fill="#111">100</text>
<line x1="51.2" y1="375.3" x2="53" y2="375.3" stroke="#333" stroke-width="0.7"/>
<text x="48.6" y="378.8" font-size="9.9" text-anchor="end" fill="#111">200</text>
<line x1="51.2" y1="356.05" x2="53" y2="356.05" stroke="#333" stroke-width="0.7"/>
<text x="48.6" y="359.55" font-size="9.9" text-anchor="end" fill="#111">300</text>
<line x1="51.2" y1="461.93" x2="52.3" y2="461.93" stroke="#333" stroke-width="0.6"/>
<line x1="51.2" y1="442.68" x2="52.3" y2="442.68" stroke="#333" stroke-width="0.6"/>
<line x1="51.2" y1="423.43" x2="52.3" y2="423.43" stroke="#333" stroke-width="0.6"/>
<line x1="51.2" y1="404.18" x2="52.3" y2="404.18" stroke="#333" stroke-width="0.6"/>
<line x1="51.2" y1="384.93" x2="52.3" y2="384.93" stroke="#333" stroke-width="0.6"/>
<line x1="51.2" y1="365.68" x2="52.3" y2="365.68" stroke="#333" stroke-width="0.6"/>
<line x1="65.6" y1="471.6" x2="65.6" y2="469.8" stroke="#333" stroke-width="0.7"/>
<text x="65.6" y="483.7" font-size="9.9" text-anchor="middle" fill="#111">-400</text>
<line x1="94.6" y1="471.6" x2="94.6" y2="469.8" stroke="#333" stroke-width="0.7"/>
<text x="94.6" y="483.7" font-size="9.9" text-anchor="middle" fill="#111">-200</text>
<line x1="123.6" y1="471.6" x2="123.6" y2="469.8" stroke="#333" stroke-width="0.7"/>
<text x="123.6" y="483.7" font-size="9.9" text-anchor="middle" fill="#111">0</text>
<line x1="152.6" y1="471.6" x2="152.6" y2="469.8" stroke="#333" stroke-width="0.7"/>
<text x="152.6" y="483.7" font-size="9.9" text-anchor="middle" fill="#111">200</text>
<line x1="181.6" y1="471.6" x2="181.6" y2="469.8" stroke="#333" stroke-width="0.7"/>
<text x="181.6" y="483.7" font-size="9.9" text-anchor="middle" fill="#111">400</text>
<line x1="80.1" y1="471.6" x2="80.1" y2="470.5" stroke="#333" stroke-width="0.6"/>
<line x1="109.1" y1="471.6" x2="109.1" y2="470.5" stroke="#333" stroke-width="0.6"/>
<line x1="138.1" y1="471.6" x2="138.1" y2="470.5" stroke="#333" stroke-width="0.6"/>
<line x1="167.1" y1="471.6" x2="167.1" y2="470.5" stroke="#333" stroke-width="0.6"/>
<text x="26.3" y="414.2" font-size="12.4" text-anchor="middle" fill="#111" transform="rotate(-90 26.3 414.2)">Height profile (µm)</text>
<text x="124.1" y="501.4" font-size="12.3" text-anchor="middle" fill="#111">Position (µm)</text>
<text x="141.7" y="364.6" font-size="7.8"><tspan font-style="italic">H</tspan><tspan font-size="5.46" dy="2.34" font-style="italic">2</tspan><tspan dy="-2.34"> = 105 µm</tspan></text>
<line x1="142.3" y1="372.9" x2="158.3" y2="372.9" stroke="#3a4ae0" stroke-width="1"/>
<polygon points="147.89,372.9 152.09,370.48 152.09,375.31" fill="#0a14c8"/>
<text x="161.2" y="375.5" font-size="7.8"><tspan font-style="italic">H</tspan><tspan font-size="5.46" dy="2.34" font-style="italic">3</tspan><tspan dy="-2.34"> = 0 µm</tspan></text>
<line x1="142.3" y1="383.6" x2="158.3" y2="383.6" stroke="#b0bafa" stroke-width="1"/>
<polygon points="150.3,380.87 152.61,383.6 150.3,386.33 147.99,383.6" fill="#6b7cf6"/>
<text x="161.2" y="386.2" font-size="7.8">26 µm</text>
<line x1="142.3" y1="393.1" x2="158.3" y2="393.1" stroke="#86d2fa" stroke-width="1"/>
<polygon points="150.3,395.52 152.72,391.31 147.89,391.31" fill="#5cc2f8"/>
<text x="161.2" y="395.7" font-size="7.8">50 µm</text>
<line x1="142.3" y1="402.6" x2="158.3" y2="402.6" stroke="#60d860" stroke-width="1"/>
<polygon points="150.3,400.19 152.72,404.39 147.89,404.39" fill="#1ec81e"/>
<text x="161.2" y="405.2" font-size="7.8">79 µm</text>
<line x1="142.3" y1="412.2" x2="158.3" y2="412.2" stroke="#ffc850" stroke-width="1"/>
<circle cx="150.3" cy="412.2" r="2.31" fill="#ffb400"/>
<text x="161.2" y="414.8" font-size="7.8">93 µm</text>
<line x1="142.3" y1="421.7" x2="158.3" y2="421.7" stroke="#ff5a5a" stroke-width="1"/>
<rect x="148.2" y="419.6" width="4.2" height="4.2" fill="#ff0a0a"/>
<text x="161.2" y="424.3" font-size="7.8">112 µm</text>
<polyline points="277.7,422.4 308.12,405.94 336.2,390.98 370.13,379.06 386.51,374.35 408.74,369.31" fill="none" stroke="#555" stroke-width="0.9" stroke-linejoin="round"/>
<polyline points="277.7,422.4 308.12,403.08 336.2,390.48 370.13,378.22 386.51,373.18 408.74,368.3" fill="none" stroke="#111" stroke-width="0.9" stroke-linejoin="round"/>
<polyline points="277.7,456.9 308.12,440.41 336.2,429.8 370.13,419.2 386.51,412.52 408.74,410.56" fill="none" stroke="#ff8080" stroke-width="0.9" stroke-linejoin="round"/>
<polyline points="277.7,457.49 308.12,441.19 336.2,429.02 370.13,418.22 386.51,408.2 408.74,407.81" fill="none" stroke="#ff1010" stroke-width="0.9" stroke-linejoin="round"/>
<rect x="275.6" y="420.3" width="4.2" height="4.2" fill="#111"/>
<rect x="275.4" y="420.1" width="4.6" height="4.6" fill="#fff" stroke="#333" stroke-width="0.7"/>
<line x1="308.12" y1="399.38" x2="308.12" y2="409.63" stroke="#222" stroke-width="0.7"/>
<line x1="305.32" y1="399.38" x2="310.92" y2="399.38" stroke="#222" stroke-width="0.7"/>
<line x1="305.32" y1="409.63" x2="310.92" y2="409.63" stroke="#222" stroke-width="0.7"/>
<rect x="306.02" y="400.98" width="4.2" height="4.2" fill="#111"/>
<rect x="305.82" y="403.64" width="4.6" height="4.6" fill="#fff" stroke="#333" stroke-width="0.7"/>
<line x1="336.2" y1="389.14" x2="336.2" y2="392.33" stroke="#222" stroke-width="0.7"/>
<line x1="333.4" y1="389.14" x2="339" y2="389.14" stroke="#222" stroke-width="0.7"/>
<line x1="333.4" y1="392.33" x2="339" y2="392.33" stroke="#222" stroke-width="0.7"/>
<rect x="334.1" y="388.38" width="4.2" height="4.2" fill="#111"/>
<rect x="333.9" y="388.68" width="4.6" height="4.6" fill="#fff" stroke="#333" stroke-width="0.7"/>
<line x1="370.13" y1="374.69" x2="370.13" y2="382.58" stroke="#222" stroke-width="0.7"/>
<line x1="367.33" y1="374.69" x2="372.93" y2="374.69" stroke="#222" stroke-width="0.7"/>
<line x1="367.33" y1="382.58" x2="372.93" y2="382.58" stroke="#222" stroke-width="0.7"/>
<rect x="368.03" y="376.12" width="4.2" height="4.2" fill="#111"/>
<rect x="367.83" y="376.76" width="4.6" height="4.6" fill="#fff" stroke="#333" stroke-width="0.7"/>
<line x1="386.51" y1="369.82" x2="386.51" y2="377.71" stroke="#222" stroke-width="0.7"/>
<line x1="383.71" y1="369.82" x2="389.31" y2="369.82" stroke="#222" stroke-width="0.7"/>
<line x1="383.71" y1="377.71" x2="389.31" y2="377.71" stroke="#222" stroke-width="0.7"/>
<rect x="384.41" y="371.08" width="4.2" height="4.2" fill="#111"/>
<rect x="384.21" y="372.05" width="4.6" height="4.6" fill="#fff" stroke="#333" stroke-width="0.7"/>
<line x1="408.74" y1="365.62" x2="408.74" y2="372" stroke="#222" stroke-width="0.7"/>
<line x1="405.94" y1="365.62" x2="411.54" y2="365.62" stroke="#222" stroke-width="0.7"/>
<line x1="405.94" y1="372" x2="411.54" y2="372" stroke="#222" stroke-width="0.7"/>
<rect x="406.64" y="366.2" width="4.2" height="4.2" fill="#111"/>
<rect x="406.44" y="367.01" width="4.6" height="4.6" fill="#fff" stroke="#333" stroke-width="0.7"/>
<line x1="277.7" y1="455.92" x2="277.7" y2="458.47" stroke="#ff0000" stroke-width="0.7"/>
<line x1="274.9" y1="455.92" x2="280.5" y2="455.92" stroke="#ff0000" stroke-width="0.7"/>
<line x1="274.9" y1="458.47" x2="280.5" y2="458.47" stroke="#ff0000" stroke-width="0.7"/>
<rect x="275.4" y="454.6" width="4.6" height="4.6" fill="#fff" stroke="#ff6060" stroke-width="0.7"/>
<rect x="275.6" y="455.39" width="4.2" height="4.2" fill="#ff0000"/>
<line x1="308.12" y1="440.01" x2="308.12" y2="441.58" stroke="#ff0000" stroke-width="0.7"/>
<line x1="305.32" y1="440.01" x2="310.92" y2="440.01" stroke="#ff0000" stroke-width="0.7"/>
<line x1="305.32" y1="441.58" x2="310.92" y2="441.58" stroke="#ff0000" stroke-width="0.7"/>
<rect x="305.82" y="438.11" width="4.6" height="4.6" fill="#fff" stroke="#ff6060" stroke-width="0.7"/>
<rect x="306.02" y="439.09" width="4.2" height="4.2" fill="#ff0000"/>
<line x1="336.2" y1="426.66" x2="336.2" y2="432.16" stroke="#ff0000" stroke-width="0.7"/>
<line x1="333.4" y1="426.66" x2="339" y2="426.66" stroke="#ff0000" stroke-width="0.7"/>
<line x1="333.4" y1="432.16" x2="339" y2="432.16" stroke="#ff0000" stroke-width="0.7"/>
<rect x="333.9" y="427.5" width="4.6" height="4.6" fill="#fff" stroke="#ff6060" stroke-width="0.7"/>
<rect x="334.1" y="426.92" width="4.2" height="4.2" fill="#ff0000"/>
<line x1="370.13" y1="417.04" x2="370.13" y2="420.38" stroke="#ff0000" stroke-width="0.7"/>
<line x1="367.33" y1="417.04" x2="372.93" y2="417.04" stroke="#ff0000" stroke-width="0.7"/>
<line x1="367.33" y1="420.38" x2="372.93" y2="420.38" stroke="#ff0000" stroke-width="0.7"/>
<rect x="367.83" y="416.9" width="4.6" height="4.6" fill="#fff" stroke="#ff6060" stroke-width="0.7"/>
<rect x="368.03" y="416.12" width="4.2" height="4.2" fill="#ff0000"/>
<line x1="386.51" y1="407.03" x2="386.51" y2="413.7" stroke="#ff0000" stroke-width="0.7"/>
<line x1="383.71" y1="407.03" x2="389.31" y2="407.03" stroke="#ff0000" stroke-width="0.7"/>
<line x1="383.71" y1="413.7" x2="389.31" y2="413.7" stroke="#ff0000" stroke-width="0.7"/>
<rect x="384.21" y="410.22" width="4.6" height="4.6" fill="#fff" stroke="#ff6060" stroke-width="0.7"/>
<rect x="384.41" y="406.1" width="4.2" height="4.2" fill="#ff0000"/>
<line x1="408.74" y1="406.63" x2="408.74" y2="411.74" stroke="#ff0000" stroke-width="0.7"/>
<line x1="405.94" y1="406.63" x2="411.54" y2="406.63" stroke="#ff0000" stroke-width="0.7"/>
<line x1="405.94" y1="411.74" x2="411.54" y2="411.74" stroke="#ff0000" stroke-width="0.7"/>
<rect x="406.44" y="408.26" width="4.6" height="4.6" fill="#fff" stroke="#ff6060" stroke-width="0.7"/>
<rect x="406.64" y="405.71" width="4.2" height="4.2" fill="#ff0000"/>
<line x1="271.7" y1="355.2" x2="418" y2="355.2" stroke="#333" stroke-width="1"/>
<line x1="271.7" y1="355.2" x2="271.7" y2="473" stroke="#555" stroke-width="1"/>
<line x1="271.7" y1="473" x2="418" y2="473" stroke="#333" stroke-width="1"/>
<line x1="418" y1="355.2" x2="418" y2="473" stroke="#ff2020" stroke-width="1"/>
<line x1="271.7" y1="472.8" x2="273.5" y2="472.8" stroke="#333" stroke-width="0.7"/>
<text x="268.8" y="476.3" font-size="9.8" text-anchor="end" fill="#111">60</text>
<line x1="271.7" y1="456" x2="273.5" y2="456" stroke="#333" stroke-width="0.7"/>
<text x="268.8" y="459.5" font-size="9.8" text-anchor="end" fill="#111">70</text>
<line x1="271.7" y1="439.2" x2="273.5" y2="439.2" stroke="#333" stroke-width="0.7"/>
<text x="268.8" y="442.7" font-size="9.8" text-anchor="end" fill="#111">80</text>
<line x1="271.7" y1="422.4" x2="273.5" y2="422.4" stroke="#333" stroke-width="0.7"/>
<text x="268.8" y="425.9" font-size="9.8" text-anchor="end" fill="#111">90</text>
<line x1="271.7" y1="405.6" x2="273.5" y2="405.6" stroke="#333" stroke-width="0.7"/>
<text x="268.8" y="409.1" font-size="9.8" text-anchor="end" fill="#111">100</text>
<line x1="271.7" y1="388.8" x2="273.5" y2="388.8" stroke="#333" stroke-width="0.7"/>
<text x="268.8" y="392.3" font-size="9.8" text-anchor="end" fill="#111">110</text>
<line x1="271.7" y1="372" x2="273.5" y2="372" stroke="#333" stroke-width="0.7"/>
<text x="268.8" y="375.5" font-size="9.8" text-anchor="end" fill="#111">120</text>
<line x1="271.7" y1="355.2" x2="273.5" y2="355.2" stroke="#333" stroke-width="0.7"/>
<text x="268.8" y="358.7" font-size="9.8" text-anchor="end" fill="#111">130</text>
<line x1="271.7" y1="464.4" x2="272.8" y2="464.4" stroke="#333" stroke-width="0.6"/>
<line x1="271.7" y1="447.6" x2="272.8" y2="447.6" stroke="#333" stroke-width="0.6"/>
<line x1="271.7" y1="430.8" x2="272.8" y2="430.8" stroke="#333" stroke-width="0.6"/>
<line x1="271.7" y1="414" x2="272.8" y2="414" stroke="#333" stroke-width="0.6"/>
<line x1="271.7" y1="397.2" x2="272.8" y2="397.2" stroke="#333" stroke-width="0.6"/>
<line x1="271.7" y1="380.4" x2="272.8" y2="380.4" stroke="#333" stroke-width="0.6"/>
<line x1="271.7" y1="363.6" x2="272.8" y2="363.6" stroke="#333" stroke-width="0.6"/>
<line x1="418" y1="473" x2="416.2" y2="473" stroke="#ff2020" stroke-width="0.7"/>
<text x="421" y="476.5" font-size="9.8" fill="#ff1a1a">100</text>
<line x1="418" y1="453.37" x2="416.2" y2="453.37" stroke="#ff2020" stroke-width="0.7"/>
<text x="421" y="456.87" font-size="9.8" fill="#ff1a1a">150</text>
<line x1="418" y1="433.73" x2="416.2" y2="433.73" stroke="#ff2020" stroke-width="0.7"/>
<text x="421" y="437.23" font-size="9.8" fill="#ff1a1a">200</text>
<line x1="418" y1="414.1" x2="416.2" y2="414.1" stroke="#ff2020" stroke-width="0.7"/>
<text x="421" y="417.6" font-size="9.8" fill="#ff1a1a">250</text>
<line x1="418" y1="394.46" x2="416.2" y2="394.46" stroke="#ff2020" stroke-width="0.7"/>
<text x="421" y="397.96" font-size="9.8" fill="#ff1a1a">300</text>
<line x1="418" y1="374.82" x2="416.2" y2="374.82" stroke="#ff2020" stroke-width="0.7"/>
<text x="421" y="378.32" font-size="9.8" fill="#ff1a1a">350</text>
<line x1="418" y1="355.19" x2="416.2" y2="355.19" stroke="#ff2020" stroke-width="0.7"/>
<text x="421" y="358.69" font-size="9.8" fill="#ff1a1a">400</text>
<line x1="418" y1="463.18" x2="416.9" y2="463.18" stroke="#ff2020" stroke-width="0.6"/>
<line x1="418" y1="443.55" x2="416.9" y2="443.55" stroke="#ff2020" stroke-width="0.6"/>
<line x1="418" y1="423.91" x2="416.9" y2="423.91" stroke="#ff2020" stroke-width="0.6"/>
<line x1="418" y1="404.28" x2="416.9" y2="404.28" stroke="#ff2020" stroke-width="0.6"/>
<line x1="418" y1="384.64" x2="416.9" y2="384.64" stroke="#ff2020" stroke-width="0.6"/>
<line x1="418" y1="365.01" x2="416.9" y2="365.01" stroke="#ff2020" stroke-width="0.6"/>
<line x1="277.7" y1="473" x2="277.7" y2="471.2" stroke="#333" stroke-width="0.7"/>
<text x="277.7" y="483" font-size="9.8" text-anchor="middle" fill="#111">0</text>
<line x1="301.1" y1="473" x2="301.1" y2="471.2" stroke="#333" stroke-width="0.7"/>
<text x="301.1" y="483" font-size="9.8" text-anchor="middle" fill="#111">20</text>
<line x1="324.5" y1="473" x2="324.5" y2="471.2" stroke="#333" stroke-width="0.7"/>
<text x="324.5" y="483" font-size="9.8" text-anchor="middle" fill="#111">40</text>
<line x1="347.9" y1="473" x2="347.9" y2="471.2" stroke="#333" stroke-width="0.7"/>
<text x="347.9" y="483" font-size="9.8" text-anchor="middle" fill="#111">60</text>
<line x1="371.3" y1="473" x2="371.3" y2="471.2" stroke="#333" stroke-width="0.7"/>
<text x="371.3" y="483" font-size="9.8" text-anchor="middle" fill="#111">80</text>
<line x1="394.7" y1="473" x2="394.7" y2="471.2" stroke="#333" stroke-width="0.7"/>
<text x="394.7" y="483" font-size="9.8" text-anchor="middle" fill="#111">100</text>
<line x1="418.1" y1="473" x2="418.1" y2="471.2" stroke="#333" stroke-width="0.7"/>
<text x="418.1" y="483" font-size="9.8" text-anchor="middle" fill="#111">120</text>
<line x1="289.4" y1="473" x2="289.4" y2="471.9" stroke="#333" stroke-width="0.6"/>
<line x1="312.8" y1="473" x2="312.8" y2="471.9" stroke="#333" stroke-width="0.6"/>
<line x1="336.2" y1="473" x2="336.2" y2="471.9" stroke="#333" stroke-width="0.6"/>
<line x1="359.6" y1="473" x2="359.6" y2="471.9" stroke="#333" stroke-width="0.6"/>
<line x1="383" y1="473" x2="383" y2="471.9" stroke="#333" stroke-width="0.6"/>
<line x1="406.4" y1="473" x2="406.4" y2="471.9" stroke="#333" stroke-width="0.6"/>
<text x="247.1" y="413.2" font-size="12.4" text-anchor="middle" fill="#111" transform="rotate(-90 247.1 413.2)">Bending angle (<tspan font-style="italic">α</tspan>) (°)</text>
<text x="450.3" y="414.3" font-size="12.4" text-anchor="middle" fill="#ff1a1a" transform="rotate(-90 450.3 414.3)">Length (<tspan font-style="italic">L</tspan>) (µm)</text>
<text x="344.8" y="503" font-size="12.6" text-anchor="middle" fill="#111">Asymmetric scribing depth (<tspan font-style="italic">H</tspan><tspan font-size="8.5" dy="3">3</tspan><tspan dy="-3">) (µm)</tspan></text>
<line x1="330.7" y1="440.6" x2="346.7" y2="440.6" stroke="#111" stroke-width="0.9"/>
<rect x="336.6" y="438.5" width="4.2" height="4.2" fill="#111"/>
<line x1="330.7" y1="449.6" x2="346.7" y2="449.6" stroke="#555" stroke-width="0.9"/>
<rect x="336.4" y="447.3" width="4.6" height="4.6" fill="#fff" stroke="#333" stroke-width="0.7"/>
<line x1="330.7" y1="458.4" x2="346.7" y2="458.4" stroke="#ff1010" stroke-width="0.9"/>
<rect x="336.6" y="456.3" width="4.2" height="4.2" fill="#ff0000"/>
<line x1="330.7" y1="467.1" x2="346.7" y2="467.1" stroke="#ff8080" stroke-width="0.9"/>
<rect x="336.4" y="464.8" width="4.6" height="4.6" fill="#fff" stroke="#ff6060" stroke-width="0.7"/>
<text x="349.1" y="443.1" font-size="7.3" fill="#111">Bending angle (exp.)</text>
<text x="349.1" y="452.1" font-size="7.3" fill="#111">Bending angle (sim.)</text>
<text x="349.1" y="460.9" font-size="7.3" fill="#111">Length (exp.)</text>
<text x="349.1" y="469.6" font-size="7.3" fill="#111">Length (sim.)</text>
<polyline points="534.4,465 550.24,465 568.06,465 581.92,465 621.52,465 645.28,465" fill="none" stroke="#6a3a3a" stroke-width="0.9" stroke-linejoin="round"/>
<rect x="531.8" y="462.4" width="5.2" height="5.2" fill="#2a0808"/>
<rect x="547.64" y="462.4" width="5.2" height="5.2" fill="#2a0808"/>
<rect x="565.46" y="462.4" width="5.2" height="5.2" fill="#2a0808"/>
<rect x="579.32" y="462.4" width="5.2" height="5.2" fill="#2a0808"/>
<rect x="618.92" y="462.4" width="5.2" height="5.2" fill="#2a0808"/>
<rect x="642.68" y="462.4" width="5.2" height="5.2" fill="#2a0808"/>
<polyline points="534.4,465 550.24,465 568.06,451.85 581.92,449.35 621.52,444.65 645.28,431.82" fill="none" stroke="#ff2020" stroke-width="0.9" stroke-linejoin="round"/>
<circle cx="534.4" cy="465" r="2.86" fill="#ff1a1a"/>
<circle cx="550.24" cy="465" r="2.86" fill="#ff1a1a"/>
<circle cx="568.06" cy="451.85" r="2.86" fill="#ff1a1a"/>
<circle cx="581.92" cy="449.35" r="2.86" fill="#ff1a1a"/>
<circle cx="621.52" cy="444.65" r="2.86" fill="#ff1a1a"/>
<circle cx="645.28" cy="431.82" r="2.86" fill="#ff1a1a"/>
<polyline points="534.4,465 550.24,465 568.06,448.1 581.92,422.75 621.52,414.29 645.28,407.41" fill="none" stroke="#1e7cff" stroke-width="0.9" stroke-linejoin="round"/>
<polygon points="534.4,462.01 537.39,467.21 531.41,467.21" fill="#1e7cff"/>
<polygon points="550.24,462.01 553.23,467.21 547.25,467.21" fill="#1e7cff"/>
<polygon points="568.06,445.11 571.05,450.31 565.07,450.31" fill="#1e7cff"/>
<polygon points="581.92,419.75 584.91,424.95 578.93,424.95" fill="#1e7cff"/>
<polygon points="621.52,411.3 624.51,416.5 618.53,416.5" fill="#1e7cff"/>
<polygon points="645.28,404.42 648.27,409.62 642.29,409.62" fill="#1e7cff"/>
<polyline points="534.4,465 550.24,465 568.06,441.52 581.92,410.54 621.52,393.01 645.28,381.43" fill="none" stroke="#1ec81e" stroke-width="0.9" stroke-linejoin="round"/>
<polygon points="534.4,467.99 537.39,462.79 531.41,462.79" fill="#1ec81e"/>
<polygon points="550.24,467.99 553.23,462.79 547.25,462.79" fill="#1ec81e"/>
<polygon points="568.06,444.51 571.05,439.31 565.07,439.31" fill="#1ec81e"/>
<polygon points="581.92,413.53 584.91,408.33 578.93,408.33" fill="#1ec81e"/>
<polygon points="621.52,396 624.51,390.8 618.53,390.8" fill="#1ec81e"/>
<polygon points="645.28,384.42 648.27,379.22 642.29,379.22" fill="#1ec81e"/>
<rect x="515.1" y="355.6" width="145.7" height="117.1" fill="none" stroke="#222" stroke-width="1"/>
<line x1="515.1" y1="465" x2="516.9" y2="465" stroke="#222" stroke-width="0.7"/>
<text x="512" y="468.5" font-size="9.8" text-anchor="end" fill="#111">90</text>
<line x1="515.1" y1="433.7" x2="516.9" y2="433.7" stroke="#222" stroke-width="0.7"/>
<text x="512" y="437.2" font-size="9.8" text-anchor="end" fill="#111">100</text>
<line x1="515.1" y1="402.4" x2="516.9" y2="402.4" stroke="#222" stroke-width="0.7"/>
<text x="512" y="405.9" font-size="9.8" text-anchor="end" fill="#111">110</text>
<line x1="515.1" y1="371.1" x2="516.9" y2="371.1" stroke="#222" stroke-width="0.7"/>
<text x="512" y="374.6" font-size="9.8" text-anchor="end" fill="#111">120</text>
<line x1="515.1" y1="449.35" x2="516.2" y2="449.35" stroke="#222" stroke-width="0.6"/>
<line x1="515.1" y1="418.05" x2="516.2" y2="418.05" stroke="#222" stroke-width="0.6"/>
<line x1="515.1" y1="386.75" x2="516.2" y2="386.75" stroke="#222" stroke-width="0.6"/>
<line x1="514.6" y1="472.7" x2="514.6" y2="470.9" stroke="#222" stroke-width="0.7"/>
<text x="514.6" y="482.9" font-size="9.8" text-anchor="middle" fill="#111">1.0</text>
<line x1="534.4" y1="472.7" x2="534.4" y2="470.9" stroke="#222" stroke-width="0.7"/>
<text x="534.4" y="482.9" font-size="9.8" text-anchor="middle" fill="#111">1.1</text>
<line x1="554.2" y1="472.7" x2="554.2" y2="470.9" stroke="#222" stroke-width="0.7"/>
<text x="554.2" y="482.9" font-size="9.8" text-anchor="middle" fill="#111">1.2</text>
<line x1="574" y1="472.7" x2="574" y2="470.9" stroke="#222" stroke-width="0.7"/>
<text x="574" y="482.9" font-size="9.8" text-anchor="middle" fill="#111">1.3</text>
<line x1="593.8" y1="472.7" x2="593.8" y2="470.9" stroke="#222" stroke-width="0.7"/>
<text x="593.8" y="482.9" font-size="9.8" text-anchor="middle" fill="#111">1.4</text>
<line x1="613.6" y1="472.7" x2="613.6" y2="470.9" stroke="#222" stroke-width="0.7"/>
<text x="613.6" y="482.9" font-size="9.8" text-anchor="middle" fill="#111">1.5</text>
<line x1="633.4" y1="472.7" x2="633.4" y2="470.9" stroke="#222" stroke-width="0.7"/>
<text x="633.4" y="482.9" font-size="9.8" text-anchor="middle" fill="#111">1.6</text>
<line x1="653.2" y1="472.7" x2="653.2" y2="470.9" stroke="#222" stroke-width="0.7"/>
<text x="653.2" y="482.9" font-size="9.8" text-anchor="middle" fill="#111">1.7</text>
<line x1="524.5" y1="472.7" x2="524.5" y2="471.6" stroke="#222" stroke-width="0.6"/>
<line x1="544.3" y1="472.7" x2="544.3" y2="471.6" stroke="#222" stroke-width="0.6"/>
<line x1="564.1" y1="472.7" x2="564.1" y2="471.6" stroke="#222" stroke-width="0.6"/>
<line x1="583.9" y1="472.7" x2="583.9" y2="471.6" stroke="#222" stroke-width="0.6"/>
<line x1="603.7" y1="472.7" x2="603.7" y2="471.6" stroke="#222" stroke-width="0.6"/>
<line x1="623.5" y1="472.7" x2="623.5" y2="471.6" stroke="#222" stroke-width="0.6"/>
<line x1="643.3" y1="472.7" x2="643.3" y2="471.6" stroke="#222" stroke-width="0.6"/>
<text x="492.1" y="414.4" font-size="12.4" text-anchor="middle" fill="#111" transform="rotate(-90 492.1 414.4)">Bending angle (<tspan font-style="italic">α</tspan>) (°)</text>
<text x="588.8" y="502" font-size="12.3" text-anchor="middle" fill="#111">λ</text>
<text x="521.9" y="365.7" font-size="7.8"><tspan font-style="italic">H</tspan><tspan font-size="5.46" dy="2.34" font-style="italic">2</tspan><tspan dy="-2.34"> = 105 µm</tspan></text>
<line x1="521.9" y1="374.5" x2="538.7" y2="374.5" stroke="#6a3a3a" stroke-width="0.9"/>
<rect x="527.9" y="372.1" width="4.8" height="4.8" fill="#2a0808"/>
<text x="541.3" y="377.1" font-size="7.8"><tspan font-style="italic">H</tspan><tspan font-size="5.46" dy="2.34" font-style="italic">3</tspan><tspan dy="-2.34"> = 0 µm</tspan></text>
<line x1="582.5" y1="374.5" x2="600" y2="374.5" stroke="#ff2020" stroke-width="0.9"/>
<circle cx="591.2" cy="374.5" r="2.64" fill="#ff1a1a"/>
<text x="602.5" y="377.1" font-size="7.8">26 µm</text>
<line x1="521.9" y1="385.1" x2="538.7" y2="385.1" stroke="#1e7cff" stroke-width="0.9"/>
<polygon points="530.3,382.34 533.06,387.14 527.54,387.14" fill="#1e7cff"/>
<text x="541.3" y="387.7" font-size="7.8">50 µm</text>
<line x1="582.5" y1="385.1" x2="600" y2="385.1" stroke="#1ec81e" stroke-width="0.9"/>
<polygon points="591.2,387.86 593.96,383.06 588.44,383.06" fill="#1ec81e"/>
<text x="602.5" y="387.7" font-size="7.8">79 µm</text>
<polyline points="70.16,632.04 85.97,619.89 103.75,608.04 117.58,596.33 157.1,591.18 180.82,589.16" fill="none" stroke="#222" stroke-width="0.9" stroke-linejoin="round"/>
<rect x="67.66" y="629.54" width="5" height="5" fill="#111"/>
<rect x="83.47" y="617.39" width="5" height="5" fill="#111"/>
<rect x="101.25" y="605.54" width="5" height="5" fill="#111"/>
<rect x="115.08" y="593.83" width="5" height="5" fill="#111"/>
<rect x="154.6" y="588.68" width="5" height="5" fill="#111"/>
<rect x="178.32" y="586.66" width="5" height="5" fill="#111"/>
<polyline points="70.16,630.89 85.97,619.11 103.75,604.64 117.58,591.18 157.1,583.77 180.82,578.72" fill="none" stroke="#ff2020" stroke-width="0.9" stroke-linejoin="round"/>
<circle cx="70.16" cy="630.89" r="2.75" fill="#ff1a1a"/>
<circle cx="85.97" cy="619.11" r="2.75" fill="#ff1a1a"/>
<circle cx="103.75" cy="604.64" r="2.75" fill="#ff1a1a"/>
<circle cx="117.58" cy="591.18" r="2.75" fill="#ff1a1a"/>
<circle cx="157.1" cy="583.77" r="2.75" fill="#ff1a1a"/>
<circle cx="180.82" cy="578.72" r="2.75" fill="#ff1a1a"/>
<polyline points="70.16,629.21 85.97,616.76 103.75,594.88 117.58,579.39 157.1,568.62 180.82,564.25" fill="none" stroke="#1e7cff" stroke-width="0.9" stroke-linejoin="round"/>
<polygon points="70.16,626.34 73.04,631.34 67.29,631.34" fill="#1e7cff"/>
<polygon points="85.97,613.88 88.84,618.88 83.09,618.88" fill="#1e7cff"/>
<polygon points="103.75,592 106.63,597 100.88,597" fill="#1e7cff"/>
<polygon points="117.58,576.52 120.46,581.52 114.71,581.52" fill="#1e7cff"/>
<polygon points="157.1,565.75 159.98,570.75 154.23,570.75" fill="#1e7cff"/>
<polygon points="180.82,561.37 183.69,566.37 177.94,566.37" fill="#1e7cff"/>
<polyline points="70.16,627.53 85.97,613.05 103.75,590.5 117.58,570.98 157.1,562.56 180.82,558.19" fill="none" stroke="#1ec81e" stroke-width="0.9" stroke-linejoin="round"/>
<polygon points="70.16,630.4 73.04,625.4 67.29,625.4" fill="#1ec81e"/>
<polygon points="85.97,615.93 88.84,610.93 83.09,610.93" fill="#1ec81e"/>
<polygon points="103.75,593.38 106.63,588.38 100.88,588.38" fill="#1ec81e"/>
<polygon points="117.58,573.85 120.46,568.85 114.71,568.85" fill="#1ec81e"/>
<polygon points="157.1,565.44 159.98,560.44 154.23,560.44" fill="#1ec81e"/>
<polygon points="180.82,561.06 183.69,556.06 177.94,556.06" fill="#1ec81e"/>
<rect x="50.6" y="520.9" width="146.2" height="117.7" fill="none" stroke="#222" stroke-width="1"/>
<line x1="50.6" y1="638.3" x2="52.4" y2="638.3" stroke="#222" stroke-width="0.7"/>
<text x="48.3" y="641.8" font-size="9.8" text-anchor="end" fill="#111">0</text>
<line x1="50.6" y1="621.47" x2="52.4" y2="621.47" stroke="#222" stroke-width="0.7"/>
<text x="48.3" y="624.97" font-size="9.8" text-anchor="end" fill="#111">50</text>
<line x1="50.6" y1="604.64" x2="52.4" y2="604.64" stroke="#222" stroke-width="0.7"/>
<text x="48.3" y="608.14" font-size="9.8" text-anchor="end" fill="#111">100</text>
<line x1="50.6" y1="587.81" x2="52.4" y2="587.81" stroke="#222" stroke-width="0.7"/>
<text x="48.3" y="591.31" font-size="9.8" text-anchor="end" fill="#111">150</text>
<line x1="50.6" y1="570.98" x2="52.4" y2="570.98" stroke="#222" stroke-width="0.7"/>
<text x="48.3" y="574.48" font-size="9.8" text-anchor="end" fill="#111">200</text>
<line x1="50.6" y1="554.15" x2="52.4" y2="554.15" stroke="#222" stroke-width="0.7"/>
<text x="48.3" y="557.65" font-size="9.8" text-anchor="end" fill="#111">250</text>
<line x1="50.6" y1="537.32" x2="52.4" y2="537.32" stroke="#222" stroke-width="0.7"/>
<text x="48.3" y="540.82" font-size="9.8" text-anchor="end" fill="#111">300</text>
<line x1="50.6" y1="520.49" x2="52.4" y2="520.49" stroke="#222" stroke-width="0.7"/>
<text x="48.3" y="523.99" font-size="9.8" text-anchor="end" fill="#111">350</text>
<line x1="50.6" y1="629.88" x2="51.7" y2="629.88" stroke="#222" stroke-width="0.6"/>
<line x1="50.6" y1="613.05" x2="51.7" y2="613.05" stroke="#222" stroke-width="0.6"/>
<line x1="50.6" y1="596.22" x2="51.7" y2="596.22" stroke="#222" stroke-width="0.6"/>
<line x1="50.6" y1="579.39" x2="51.7" y2="579.39" stroke="#222" stroke-width="0.6"/>
<line x1="50.6" y1="562.56" x2="51.7" y2="562.56" stroke="#222" stroke-width="0.6"/>
<line x1="50.6" y1="545.73" x2="51.7" y2="545.73" stroke="#222" stroke-width="0.6"/>
<line x1="50.6" y1="528.9" x2="51.7" y2="528.9" stroke="#222" stroke-width="0.6"/>
<line x1="50.4" y1="638.6" x2="50.4" y2="636.8" stroke="#222" stroke-width="0.7"/>
<text x="50.4" y="650.3" font-size="9.8" text-anchor="middle" fill="#111">1.0</text>
<line x1="70.16" y1="638.6" x2="70.16" y2="636.8" stroke="#222" stroke-width="0.7"/>
<text x="70.16" y="650.3" font-size="9.8" text-anchor="middle" fill="#111">1.1</text>
<line x1="89.92" y1="638.6" x2="89.92" y2="636.8" stroke="#222" stroke-width="0.7"/>
<text x="89.92" y="650.3" font-size="9.8" text-anchor="middle" fill="#111">1.2</text>
<line x1="109.68" y1="638.6" x2="109.68" y2="636.8" stroke="#222" stroke-width="0.7"/>
<text x="109.68" y="650.3" font-size="9.8" text-anchor="middle" fill="#111">1.3</text>
<line x1="129.44" y1="638.6" x2="129.44" y2="636.8" stroke="#222" stroke-width="0.7"/>
<text x="129.44" y="650.3" font-size="9.8" text-anchor="middle" fill="#111">1.4</text>
<line x1="149.2" y1="638.6" x2="149.2" y2="636.8" stroke="#222" stroke-width="0.7"/>
<text x="149.2" y="650.3" font-size="9.8" text-anchor="middle" fill="#111">1.5</text>
<line x1="168.96" y1="638.6" x2="168.96" y2="636.8" stroke="#222" stroke-width="0.7"/>
<text x="168.96" y="650.3" font-size="9.8" text-anchor="middle" fill="#111">1.6</text>
<line x1="188.72" y1="638.6" x2="188.72" y2="636.8" stroke="#222" stroke-width="0.7"/>
<text x="188.72" y="650.3" font-size="9.8" text-anchor="middle" fill="#111">1.7</text>
<line x1="60.28" y1="638.6" x2="60.28" y2="637.5" stroke="#222" stroke-width="0.6"/>
<line x1="80.04" y1="638.6" x2="80.04" y2="637.5" stroke="#222" stroke-width="0.6"/>
<line x1="99.8" y1="638.6" x2="99.8" y2="637.5" stroke="#222" stroke-width="0.6"/>
<line x1="119.56" y1="638.6" x2="119.56" y2="637.5" stroke="#222" stroke-width="0.6"/>
<line x1="139.32" y1="638.6" x2="139.32" y2="637.5" stroke="#222" stroke-width="0.6"/>
<line x1="159.08" y1="638.6" x2="159.08" y2="637.5" stroke="#222" stroke-width="0.6"/>
<line x1="178.84" y1="638.6" x2="178.84" y2="637.5" stroke="#222" stroke-width="0.6"/>
<text x="76.0" y="580" font-size="12.3" text-anchor="middle" fill="#111" transform="rotate(-90 76 580) translate(0,0)"></text>
<text x="26.5" y="580" font-size="12.3" text-anchor="middle" fill="#111" transform="rotate(-90 26.5 580)">Length (<tspan font-style="italic">L</tspan>) (µm)</text>
<text x="126" y="667.5" font-size="12.3" text-anchor="middle" fill="#111">λ</text>
<text x="53.3" y="529.7" font-size="7.8"><tspan font-style="italic">H</tspan><tspan font-size="5.46" dy="2.34" font-style="italic">2</tspan><tspan dy="-2.34"> = 105 µm</tspan></text>
<line x1="47.5" y1="538" x2="70.8" y2="538" stroke="#222" stroke-width="0.9"/>
<rect x="59.6" y="535.6" width="4.8" height="4.8" fill="#111"/>
<text x="72.5" y="540.6" font-size="7.8"><tspan font-style="italic">H</tspan><tspan font-size="5.46" dy="2.34" font-style="italic">3</tspan><tspan dy="-2.34"> = 0 µm</tspan></text>
<line x1="114.6" y1="538" x2="132.1" y2="538" stroke="#ff2020" stroke-width="0.9"/>
<circle cx="122.9" cy="538" r="2.64" fill="#ff1a1a"/>
<text x="133.9" y="540.6" font-size="7.8">26 µm</text>
<line x1="52.8" y1="549.4" x2="70.8" y2="549.4" stroke="#1e7cff" stroke-width="0.9"/>
<polygon points="62,546.64 64.76,551.44 59.24,551.44" fill="#1e7cff"/>
<text x="72.5" y="552" font-size="7.8">50 µm</text>
<line x1="114.6" y1="549.4" x2="132.1" y2="549.4" stroke="#1ec81e" stroke-width="0.9"/>
<polygon points="122.9,552.16 125.66,547.36 120.14,547.36" fill="#1ec81e"/>
<text x="133.9" y="552" font-size="7.8">79 µm</text>
<polyline points="285.83,625.8 292.85,625.8 299.86,625.8 306.88,625.8 313.89,625.8 320.91,625.8 327.92,625.8 334.94,625.8 341.95,625.8 348.97,625.8 355.98,625.8 363,625.8 370.01,625.8 377.02,625.8 384.04,625.8 391.06,625.8 398.07,625.8 405.09,625.8 412.1,625.8" fill="none" stroke="#111" stroke-width="0.9" stroke-linejoin="round"/>
<rect x="283.43" y="623.4" width="4.8" height="4.8" fill="#111"/>
<rect x="290.45" y="623.4" width="4.8" height="4.8" fill="#111"/>
<rect x="297.46" y="623.4" width="4.8" height="4.8" fill="#111"/>
<rect x="304.48" y="623.4" width="4.8" height="4.8" fill="#111"/>
<rect x="311.49" y="623.4" width="4.8" height="4.8" fill="#111"/>
<rect x="318.51" y="623.4" width="4.8" height="4.8" fill="#111"/>
<rect x="325.52" y="623.4" width="4.8" height="4.8" fill="#111"/>
<rect x="332.54" y="623.4" width="4.8" height="4.8" fill="#111"/>
<rect x="339.55" y="623.4" width="4.8" height="4.8" fill="#111"/>
<rect x="346.57" y="623.4" width="4.8" height="4.8" fill="#111"/>
<rect x="353.58" y="623.4" width="4.8" height="4.8" fill="#111"/>
<rect x="360.6" y="623.4" width="4.8" height="4.8" fill="#111"/>
<rect x="367.61" y="623.4" width="4.8" height="4.8" fill="#111"/>
<rect x="374.62" y="623.4" width="4.8" height="4.8" fill="#111"/>
<rect x="381.64" y="623.4" width="4.8" height="4.8" fill="#111"/>
<rect x="388.66" y="623.4" width="4.8" height="4.8" fill="#111"/>
<rect x="395.67" y="623.4" width="4.8" height="4.8" fill="#111"/>
<rect x="402.69" y="623.4" width="4.8" height="4.8" fill="#111"/>
<rect x="409.7" y="623.4" width="4.8" height="4.8" fill="#111"/>
<circle cx="285.83" cy="598.39" r="2.75" fill="#ff1a1a"/>
<circle cx="292.85" cy="625.8" r="2.75" fill="#ff1a1a"/>
<circle cx="299.86" cy="592.65" r="2.75" fill="#ff1a1a"/>
<circle cx="306.88" cy="625.8" r="2.75" fill="#ff1a1a"/>
<circle cx="313.89" cy="583.26" r="2.75" fill="#ff1a1a"/>
<circle cx="320.91" cy="625.8" r="2.75" fill="#ff1a1a"/>
<circle cx="327.92" cy="580.91" r="2.75" fill="#ff1a1a"/>
<circle cx="334.94" cy="625.8" r="2.75" fill="#ff1a1a"/>
<circle cx="341.95" cy="583.26" r="2.75" fill="#ff1a1a"/>
<circle cx="348.97" cy="625.8" r="2.75" fill="#ff1a1a"/>
<circle cx="355.98" cy="582.74" r="2.75" fill="#ff1a1a"/>
<circle cx="363" cy="625.8" r="2.75" fill="#ff1a1a"/>
<circle cx="370.01" cy="576.73" r="2.75" fill="#ff1a1a"/>
<circle cx="377.02" cy="625.8" r="2.75" fill="#ff1a1a"/>
<circle cx="384.04" cy="576.73" r="2.75" fill="#ff1a1a"/>
<circle cx="391.06" cy="625.8" r="2.75" fill="#ff1a1a"/>
<circle cx="398.07" cy="578.04" r="2.75" fill="#ff1a1a"/>
<circle cx="405.09" cy="625.8" r="2.75" fill="#ff1a1a"/>
<circle cx="412.1" cy="578.82" r="2.75" fill="#ff1a1a"/>
<polyline points="285.83,598.39 292.85,625.8 299.86,592.65 306.88,625.8 313.89,583.26 320.91,625.8 327.92,580.91 334.94,625.8 341.95,583.26 348.97,625.8 355.98,582.74 363,625.8 370.01,576.73 377.02,625.8 384.04,576.73 391.06,625.8 398.07,578.04 405.09,625.8 412.1,578.82" fill="none" stroke="#ff2020" stroke-width="0.9" stroke-linejoin="round"/>
<polygon points="285.83,574.64 288.7,579.64 282.95,579.64" fill="#1e7cff"/>
<polygon points="292.85,622.92 295.72,627.92 289.97,627.92" fill="#1e7cff"/>
<polygon points="299.86,568.9 302.74,573.9 296.99,573.9" fill="#1e7cff"/>
<polygon points="306.88,622.92 309.75,627.92 304,627.92" fill="#1e7cff"/>
<polygon points="313.89,562.89 316.76,567.89 311.01,567.89" fill="#1e7cff"/>
<polygon points="320.91,622.92 323.78,627.92 318.03,627.92" fill="#1e7cff"/>
<polygon points="327.92,564.72 330.8,569.72 325.05,569.72" fill="#1e7cff"/>
<polygon points="334.94,622.92 337.81,627.92 332.06,627.92" fill="#1e7cff"/>
<polygon points="341.95,563.42 344.82,568.42 339.07,568.42" fill="#1e7cff"/>
<polygon points="348.97,622.92 351.84,627.92 346.09,627.92" fill="#1e7cff"/>
<polygon points="355.98,566.03 358.86,571.03 353.11,571.03" fill="#1e7cff"/>
<polygon points="363,622.92 365.87,627.92 360.12,627.92" fill="#1e7cff"/>
<polygon points="370.01,561.59 372.88,566.59 367.13,566.59" fill="#1e7cff"/>
<polygon points="377.02,622.92 379.9,627.92 374.15,627.92" fill="#1e7cff"/>
<polygon points="384.04,561.59 386.92,566.59 381.17,566.59" fill="#1e7cff"/>
<polygon points="391.06,622.92 393.93,627.92 388.18,627.92" fill="#1e7cff"/>
<polygon points="398.07,562.89 400.94,567.89 395.19,567.89" fill="#1e7cff"/>
<polygon points="405.09,622.92 407.96,627.92 402.21,627.92" fill="#1e7cff"/>
<polygon points="412.1,563.42 414.98,568.42 409.23,568.42" fill="#1e7cff"/>
<polyline points="285.83,577.51 292.85,625.8 299.86,571.77 306.88,625.8 313.89,565.77 320.91,625.8 327.92,567.6 334.94,625.8 341.95,566.29 348.97,625.8 355.98,568.9 363,625.8 370.01,564.46 377.02,625.8 384.04,564.46 391.06,625.8 398.07,565.77 405.09,625.8 412.1,566.29" fill="none" stroke="#1e7cff" stroke-width="0.9" stroke-linejoin="round"/>
<polygon points="285.83,558.2 288.7,553.2 282.95,553.2" fill="#1ec81e"/>
<polygon points="292.85,628.67 295.72,623.67 289.97,623.67" fill="#1ec81e"/>
<polygon points="299.86,566.56 302.74,561.56 296.99,561.56" fill="#1ec81e"/>
<polygon points="306.88,628.67 309.75,623.67 304,623.67" fill="#1ec81e"/>
<polygon points="313.89,569.95 316.76,564.95 311.01,564.95" fill="#1ec81e"/>
<polygon points="320.91,628.67 323.78,623.67 318.03,623.67" fill="#1ec81e"/>
<polygon points="327.92,573.87 330.8,568.87 325.05,568.87" fill="#1ec81e"/>
<polygon points="334.94,628.67 337.81,623.67 332.06,623.67" fill="#1ec81e"/>
<polygon points="341.95,577 344.82,572 339.07,572" fill="#1ec81e"/>
<polygon points="348.97,628.67 351.84,623.67 346.09,623.67" fill="#1ec81e"/>
<polygon points="355.98,575.17 358.86,570.17 353.11,570.17" fill="#1ec81e"/>
<polygon points="363,628.67 365.87,623.67 360.12,623.67" fill="#1ec81e"/>
<polygon points="370.01,578.3 372.88,573.3 367.13,573.3" fill="#1ec81e"/>
<polygon points="377.02,628.67 379.9,623.67 374.15,623.67" fill="#1ec81e"/>
<polygon points="384.04,580.39 386.92,575.39 381.17,575.39" fill="#1ec81e"/>
<polygon points="391.06,628.67 393.93,623.67 388.18,623.67" fill="#1ec81e"/>
<polygon points="398.07,581.17 400.94,576.17 395.19,576.17" fill="#1ec81e"/>
<polygon points="405.09,628.67 407.96,623.67 402.21,623.67" fill="#1ec81e"/>
<polygon points="412.1,575.69 414.98,570.69 409.23,570.69" fill="#1ec81e"/>
<polyline points="285.83,555.33 292.85,625.8 299.86,563.68 306.88,625.8 313.89,567.07 320.91,625.8 327.92,570.99 334.94,625.8 341.95,574.12 348.97,625.8 355.98,572.29 363,625.8 370.01,575.43 377.02,625.8 384.04,577.51 391.06,625.8 398.07,578.3 405.09,625.8 412.1,572.82" fill="none" stroke="#1ec81e" stroke-width="0.9" stroke-linejoin="round"/>
<rect x="272.1" y="521.3" width="146.1" height="117.1" fill="none" stroke="#222" stroke-width="1"/>
<line x1="272.1" y1="625.8" x2="273.9" y2="625.8" stroke="#222" stroke-width="0.7"/>
<text x="269.4" y="629.3" font-size="9.8" text-anchor="end" fill="#111">90</text>
<line x1="272.1" y1="599.7" x2="273.9" y2="599.7" stroke="#222" stroke-width="0.7"/>
<text x="269.4" y="603.2" font-size="9.8" text-anchor="end" fill="#111">100</text>
<line x1="272.1" y1="573.6" x2="273.9" y2="573.6" stroke="#222" stroke-width="0.7"/>
<text x="269.4" y="577.1" font-size="9.8" text-anchor="end" fill="#111">110</text>
<line x1="272.1" y1="547.5" x2="273.9" y2="547.5" stroke="#222" stroke-width="0.7"/>
<text x="269.4" y="551" font-size="9.8" text-anchor="end" fill="#111">120</text>
<line x1="272.1" y1="521.4" x2="273.9" y2="521.4" stroke="#222" stroke-width="0.7"/>
<text x="269.4" y="524.9" font-size="9.8" text-anchor="end" fill="#111">130</text>
<line x1="272.1" y1="638.85" x2="273.2" y2="638.85" stroke="#222" stroke-width="0.6"/>
<line x1="272.1" y1="612.75" x2="273.2" y2="612.75" stroke="#222" stroke-width="0.6"/>
<line x1="272.1" y1="586.65" x2="273.2" y2="586.65" stroke="#222" stroke-width="0.6"/>
<line x1="272.1" y1="560.55" x2="273.2" y2="560.55" stroke="#222" stroke-width="0.6"/>
<line x1="272.1" y1="534.45" x2="273.2" y2="534.45" stroke="#222" stroke-width="0.6"/>
<line x1="271.8" y1="638.4" x2="271.8" y2="636.6" stroke="#222" stroke-width="0.7"/>
<text x="271.8" y="649.6" font-size="9.8" text-anchor="middle" fill="#111">0</text>
<line x1="285.83" y1="638.4" x2="285.83" y2="636.6" stroke="#222" stroke-width="0.7"/>
<text x="285.83" y="649.6" font-size="9.8" text-anchor="middle" fill="#111">1</text>
<line x1="299.86" y1="638.4" x2="299.86" y2="636.6" stroke="#222" stroke-width="0.7"/>
<text x="299.86" y="649.6" font-size="9.8" text-anchor="middle" fill="#111">2</text>
<line x1="313.89" y1="638.4" x2="313.89" y2="636.6" stroke="#222" stroke-width="0.7"/>
<text x="313.89" y="649.6" font-size="9.8" text-anchor="middle" fill="#111">3</text>
<line x1="327.92" y1="638.4" x2="327.92" y2="636.6" stroke="#222" stroke-width="0.7"/>
<text x="327.92" y="649.6" font-size="9.8" text-anchor="middle" fill="#111">4</text>
<line x1="341.95" y1="638.4" x2="341.95" y2="636.6" stroke="#222" stroke-width="0.7"/>
<text x="341.95" y="649.6" font-size="9.8" text-anchor="middle" fill="#111">5</text>
<line x1="355.98" y1="638.4" x2="355.98" y2="636.6" stroke="#222" stroke-width="0.7"/>
<text x="355.98" y="649.6" font-size="9.8" text-anchor="middle" fill="#111">6</text>
<line x1="370.01" y1="638.4" x2="370.01" y2="636.6" stroke="#222" stroke-width="0.7"/>
<text x="370.01" y="649.6" font-size="9.8" text-anchor="middle" fill="#111">7</text>
<line x1="384.04" y1="638.4" x2="384.04" y2="636.6" stroke="#222" stroke-width="0.7"/>
<text x="384.04" y="649.6" font-size="9.8" text-anchor="middle" fill="#111">8</text>
<line x1="398.07" y1="638.4" x2="398.07" y2="636.6" stroke="#222" stroke-width="0.7"/>
<text x="398.07" y="649.6" font-size="9.8" text-anchor="middle" fill="#111">9</text>
<line x1="412.1" y1="638.4" x2="412.1" y2="636.6" stroke="#222" stroke-width="0.7"/>
<text x="412.1" y="649.6" font-size="9.8" text-anchor="middle" fill="#111">10</text>
<line x1="278.81" y1="638.4" x2="278.81" y2="637.3" stroke="#222" stroke-width="0.6"/>
<line x1="292.85" y1="638.4" x2="292.85" y2="637.3" stroke="#222" stroke-width="0.6"/>
<line x1="306.88" y1="638.4" x2="306.88" y2="637.3" stroke="#222" stroke-width="0.6"/>
<line x1="320.91" y1="638.4" x2="320.91" y2="637.3" stroke="#222" stroke-width="0.6"/>
<line x1="334.94" y1="638.4" x2="334.94" y2="637.3" stroke="#222" stroke-width="0.6"/>
<line x1="348.97" y1="638.4" x2="348.97" y2="637.3" stroke="#222" stroke-width="0.6"/>
<line x1="363" y1="638.4" x2="363" y2="637.3" stroke="#222" stroke-width="0.6"/>
<line x1="377.02" y1="638.4" x2="377.02" y2="637.3" stroke="#222" stroke-width="0.6"/>
<line x1="391.06" y1="638.4" x2="391.06" y2="637.3" stroke="#222" stroke-width="0.6"/>
<line x1="405.09" y1="638.4" x2="405.09" y2="637.3" stroke="#222" stroke-width="0.6"/>
<text x="248.6" y="580" font-size="12.3" text-anchor="middle" fill="#111" transform="rotate(-90 248.6 580)">Bending angle (<tspan font-style="italic">α</tspan>) (°)</text>
<text x="345.3" y="667.5" font-size="12.3" text-anchor="middle" fill="#111">Cycles</text>
<text x="414.6" y="531.2" font-size="7.8" text-anchor="end"><tspan font-style="italic">H</tspan><tspan font-size="5.46" dy="2.34" font-style="italic">2</tspan><tspan dy="-2.34"> = 105 µm</tspan></text>
<line x1="313.8" y1="539.1" x2="332.4" y2="539.1" stroke="#111" stroke-width="0.9"/>
<rect x="320.2" y="536.7" width="4.8" height="4.8" fill="#111"/>
<text x="334" y="541.7" font-size="7.8"><tspan font-style="italic">H</tspan><tspan font-size="5.46" dy="2.34" font-style="italic">3</tspan><tspan dy="-2.34"> =0 µm</tspan></text>
<line x1="372.9" y1="539.1" x2="390.4" y2="539.1" stroke="#ff2020" stroke-width="0.9"/>
<circle cx="381.7" cy="539.1" r="2.64" fill="#ff1a1a"/>
<text x="392.6" y="541.7" font-size="7.8">26 µm</text>
<line x1="313.8" y1="550.5" x2="332.4" y2="550.5" stroke="#1e7cff" stroke-width="0.9"/>
<polygon points="322.6,547.74 325.36,552.54 319.84,552.54" fill="#1e7cff"/>
<text x="334.6" y="553.1" font-size="7.8">50 µm</text>
<line x1="372.9" y1="550.5" x2="390.4" y2="550.5" stroke="#1ec81e" stroke-width="0.9"/>
<polygon points="381.7,553.26 384.46,548.46 378.94,548.46" fill="#1ec81e"/>
<text x="392.6" y="553.1" font-size="7.8">79 µm</text>
<rect x="526.3" y="590.66" width="5" height="5" fill="#111"/>
<rect x="533.3" y="629.97" width="5" height="5" fill="#111"/>
<rect x="540.3" y="582.67" width="5" height="5" fill="#111"/>
<rect x="547.3" y="630.27" width="5" height="5" fill="#111"/>
<rect x="554.3" y="579.6" width="5" height="5" fill="#111"/>
<rect x="561.3" y="629.66" width="5" height="5" fill="#111"/>
<rect x="568.3" y="579.6" width="5" height="5" fill="#111"/>
<rect x="575.3" y="629.97" width="5" height="5" fill="#111"/>
<rect x="582.3" y="578.68" width="5" height="5" fill="#111"/>
<rect x="589.3" y="630.58" width="5" height="5" fill="#111"/>
<rect x="596.3" y="579.29" width="5" height="5" fill="#111"/>
<rect x="603.3" y="630.27" width="5" height="5" fill="#111"/>
<rect x="610.3" y="579.29" width="5" height="5" fill="#111"/>
<rect x="617.3" y="629.66" width="5" height="5" fill="#111"/>
<rect x="624.3" y="577.14" width="5" height="5" fill="#111"/>
<rect x="631.3" y="630.89" width="5" height="5" fill="#111"/>
<rect x="638.3" y="577.14" width="5" height="5" fill="#111"/>
<rect x="645.3" y="629.97" width="5" height="5" fill="#111"/>
<rect x="652.3" y="577.45" width="5" height="5" fill="#111"/>
<polyline points="528.8,593.16 535.8,632.47 542.8,585.17 549.8,632.77 556.8,582.1 563.8,632.16 570.8,582.1 577.8,632.47 584.8,581.18 591.8,633.08 598.8,581.79 605.8,632.77 612.8,581.79 619.8,632.16 626.8,579.64 633.8,633.39 640.8,579.64 647.8,632.47 654.8,579.95" fill="none" stroke="#222" stroke-width="0.9" stroke-linejoin="round"/>
<circle cx="528.8" cy="583.33" r="2.75" fill="#ff1a1a"/>
<circle cx="535.8" cy="631.54" r="2.75" fill="#ff1a1a"/>
<circle cx="542.8" cy="574.42" r="2.75" fill="#ff1a1a"/>
<circle cx="549.8" cy="631.85" r="2.75" fill="#ff1a1a"/>
<circle cx="556.8" cy="568.28" r="2.75" fill="#ff1a1a"/>
<circle cx="563.8" cy="631.24" r="2.75" fill="#ff1a1a"/>
<circle cx="570.8" cy="569.82" r="2.75" fill="#ff1a1a"/>
<circle cx="577.8" cy="631.54" r="2.75" fill="#ff1a1a"/>
<circle cx="584.8" cy="568.59" r="2.75" fill="#ff1a1a"/>
<circle cx="591.8" cy="632.16" r="2.75" fill="#ff1a1a"/>
<circle cx="598.8" cy="569.82" r="2.75" fill="#ff1a1a"/>
<circle cx="605.8" cy="631.54" r="2.75" fill="#ff1a1a"/>
<circle cx="612.8" cy="567.67" r="2.75" fill="#ff1a1a"/>
<circle cx="619.8" cy="630.93" r="2.75" fill="#ff1a1a"/>
<circle cx="626.8" cy="568.59" r="2.75" fill="#ff1a1a"/>
<circle cx="633.8" cy="632.16" r="2.75" fill="#ff1a1a"/>
<circle cx="640.8" cy="566.44" r="2.75" fill="#ff1a1a"/>
<circle cx="647.8" cy="631.54" r="2.75" fill="#ff1a1a"/>
<circle cx="654.8" cy="566.75" r="2.75" fill="#ff1a1a"/>
<polyline points="528.8,583.33 535.8,631.54 542.8,574.42 549.8,631.85 556.8,568.28 563.8,631.24 570.8,569.82 577.8,631.54 584.8,568.59 591.8,632.16 598.8,569.82 605.8,631.54 612.8,567.67 619.8,630.93 626.8,568.59 633.8,632.16 640.8,566.44 647.8,631.54 654.8,566.75" fill="none" stroke="#ff2020" stroke-width="0.9" stroke-linejoin="round"/>
<polygon points="528.8,567.56 531.67,572.56 525.92,572.56" fill="#1e7cff"/>
<polygon points="535.8,627.13 538.67,632.13 532.92,632.13" fill="#1e7cff"/>
<polygon points="542.8,560.49 545.67,565.49 539.92,565.49" fill="#1e7cff"/>
<polygon points="549.8,627.44 552.67,632.44 546.92,632.44" fill="#1e7cff"/>
<polygon points="556.8,556.19 559.67,561.19 553.92,561.19" fill="#1e7cff"/>
<polygon points="563.8,626.83 566.67,631.83 560.92,631.83" fill="#1e7cff"/>
<polygon points="570.8,556.19 573.67,561.19 567.92,561.19" fill="#1e7cff"/>
<polygon points="577.8,627.13 580.67,632.13 574.92,632.13" fill="#1e7cff"/>
<polygon points="584.8,555.27 587.67,560.27 581.92,560.27" fill="#1e7cff"/>
<polygon points="591.8,627.44 594.67,632.44 588.92,632.44" fill="#1e7cff"/>
<polygon points="598.8,555.58 601.67,560.58 595.92,560.58" fill="#1e7cff"/>
<polygon points="605.8,627.13 608.67,632.13 602.92,632.13" fill="#1e7cff"/>
<polygon points="612.8,556.81 615.67,561.81 609.92,561.81" fill="#1e7cff"/>
<polygon points="619.8,626.52 622.67,631.52 616.92,631.52" fill="#1e7cff"/>
<polygon points="626.8,554.66 629.67,559.66 623.92,559.66" fill="#1e7cff"/>
<polygon points="633.8,627.75 636.67,632.75 630.92,632.75" fill="#1e7cff"/>
<polygon points="640.8,552.51 643.67,557.51 637.92,557.51" fill="#1e7cff"/>
<polygon points="647.8,627.13 650.67,632.13 644.92,632.13" fill="#1e7cff"/>
<polygon points="654.8,553.43 657.67,558.43 651.92,558.43" fill="#1e7cff"/>
<polyline points="528.8,570.43 535.8,630.01 542.8,563.37 549.8,630.32 556.8,559.07 563.8,629.7 570.8,559.07 577.8,630.01 584.8,558.15 591.8,630.32 598.8,558.45 605.8,630.01 612.8,559.68 619.8,629.39 626.8,557.53 633.8,630.62 640.8,555.38 647.8,630.01 654.8,556.3" fill="none" stroke="#1e7cff" stroke-width="0.9" stroke-linejoin="round"/>
<polygon points="528.8,567.16 531.67,562.16 525.92,562.16" fill="#1ec81e"/>
<polygon points="535.8,630.43 538.67,625.43 532.92,625.43" fill="#1ec81e"/>
<polygon points="542.8,560.1 545.67,555.1 539.92,555.1" fill="#1ec81e"/>
<polygon points="549.8,630.73 552.67,625.73 546.92,625.73" fill="#1ec81e"/>
<polygon points="556.8,558.57 559.67,553.57 553.92,553.57" fill="#1ec81e"/>
<polygon points="563.8,630.12 566.67,625.12 560.92,625.12" fill="#1ec81e"/>
<polygon points="570.8,558.26 573.67,553.26 567.92,553.26" fill="#1ec81e"/>
<polygon points="577.8,630.43 580.67,625.43 574.92,625.43" fill="#1ec81e"/>
<polygon points="584.8,560.1 587.67,555.1 581.92,555.1" fill="#1ec81e"/>
<polygon points="591.8,630.73 594.67,625.73 588.92,625.73" fill="#1ec81e"/>
<polygon points="598.8,558.57 601.67,553.57 595.92,553.57" fill="#1ec81e"/>
<polygon points="605.8,630.43 608.67,625.43 602.92,625.43" fill="#1ec81e"/>
<polygon points="612.8,559.79 615.67,554.79 609.92,554.79" fill="#1ec81e"/>
<polygon points="619.8,629.81 622.67,624.81 616.92,624.81" fill="#1ec81e"/>
<polygon points="626.8,557.64 629.67,552.64 623.92,552.64" fill="#1ec81e"/>
<polygon points="633.8,628.28 636.67,623.28 630.92,623.28" fill="#1ec81e"/>
<polygon points="640.8,558.57 643.67,553.57 637.92,553.57" fill="#1ec81e"/>
<polygon points="647.8,630.43 650.67,625.43 644.92,625.43" fill="#1ec81e"/>
<polygon points="654.8,559.79 657.67,554.79 651.92,554.79" fill="#1ec81e"/>
<polyline points="528.8,564.29 535.8,627.55 542.8,557.23 549.8,627.86 556.8,555.69 563.8,627.24 570.8,555.38 577.8,627.55 584.8,557.23 591.8,627.86 598.8,555.69 605.8,627.55 612.8,556.92 619.8,626.94 626.8,554.77 633.8,625.4 640.8,555.69 647.8,627.55 654.8,556.92" fill="none" stroke="#1ec81e" stroke-width="0.9" stroke-linejoin="round"/>
<rect x="515" y="521.2" width="146" height="117.4" fill="none" stroke="#222" stroke-width="1"/>
<line x1="515" y1="638.3" x2="516.8" y2="638.3" stroke="#222" stroke-width="0.7"/>
<text x="512.3" y="641.8" font-size="9.8" text-anchor="end" fill="#111">0</text>
<line x1="515" y1="616.8" x2="516.8" y2="616.8" stroke="#222" stroke-width="0.7"/>
<text x="512.3" y="620.3" font-size="9.8" text-anchor="end" fill="#111">70</text>
<line x1="515" y1="595.31" x2="516.8" y2="595.31" stroke="#222" stroke-width="0.7"/>
<text x="512.3" y="598.81" font-size="9.8" text-anchor="end" fill="#111">140</text>
<line x1="515" y1="573.81" x2="516.8" y2="573.81" stroke="#222" stroke-width="0.7"/>
<text x="512.3" y="577.31" font-size="9.8" text-anchor="end" fill="#111">210</text>
<line x1="515" y1="552.31" x2="516.8" y2="552.31" stroke="#222" stroke-width="0.7"/>
<text x="512.3" y="555.81" font-size="9.8" text-anchor="end" fill="#111">280</text>
<line x1="515" y1="530.81" x2="516.8" y2="530.81" stroke="#222" stroke-width="0.7"/>
<text x="512.3" y="534.31" font-size="9.8" text-anchor="end" fill="#111">350</text>
<line x1="515" y1="627.55" x2="516.1" y2="627.55" stroke="#222" stroke-width="0.6"/>
<line x1="515" y1="606.05" x2="516.1" y2="606.05" stroke="#222" stroke-width="0.6"/>
<line x1="515" y1="584.56" x2="516.1" y2="584.56" stroke="#222" stroke-width="0.6"/>
<line x1="515" y1="563.06" x2="516.1" y2="563.06" stroke="#222" stroke-width="0.6"/>
<line x1="515" y1="541.56" x2="516.1" y2="541.56" stroke="#222" stroke-width="0.6"/>
<line x1="514.8" y1="638.6" x2="514.8" y2="636.8" stroke="#222" stroke-width="0.7"/>
<text x="514.8" y="650.1" font-size="9.8" text-anchor="middle" fill="#111">0</text>
<line x1="528.8" y1="638.6" x2="528.8" y2="636.8" stroke="#222" stroke-width="0.7"/>
<text x="528.8" y="650.1" font-size="9.8" text-anchor="middle" fill="#111">1</text>
<line x1="542.8" y1="638.6" x2="542.8" y2="636.8" stroke="#222" stroke-width="0.7"/>
<text x="542.8" y="650.1" font-size="9.8" text-anchor="middle" fill="#111">2</text>
<line x1="556.8" y1="638.6" x2="556.8" y2="636.8" stroke="#222" stroke-width="0.7"/>
<text x="556.8" y="650.1" font-size="9.8" text-anchor="middle" fill="#111">3</text>
<line x1="570.8" y1="638.6" x2="570.8" y2="636.8" stroke="#222" stroke-width="0.7"/>
<text x="570.8" y="650.1" font-size="9.8" text-anchor="middle" fill="#111">4</text>
<line x1="584.8" y1="638.6" x2="584.8" y2="636.8" stroke="#222" stroke-width="0.7"/>
<text x="584.8" y="650.1" font-size="9.8" text-anchor="middle" fill="#111">5</text>
<line x1="598.8" y1="638.6" x2="598.8" y2="636.8" stroke="#222" stroke-width="0.7"/>
<text x="598.8" y="650.1" font-size="9.8" text-anchor="middle" fill="#111">6</text>
<line x1="612.8" y1="638.6" x2="612.8" y2="636.8" stroke="#222" stroke-width="0.7"/>
<text x="612.8" y="650.1" font-size="9.8" text-anchor="middle" fill="#111">7</text>
<line x1="626.8" y1="638.6" x2="626.8" y2="636.8" stroke="#222" stroke-width="0.7"/>
<text x="626.8" y="650.1" font-size="9.8" text-anchor="middle" fill="#111">8</text>
<line x1="640.8" y1="638.6" x2="640.8" y2="636.8" stroke="#222" stroke-width="0.7"/>
<text x="640.8" y="650.1" font-size="9.8" text-anchor="middle" fill="#111">9</text>
<line x1="654.8" y1="638.6" x2="654.8" y2="636.8" stroke="#222" stroke-width="0.7"/>
<text x="654.8" y="650.1" font-size="9.8" text-anchor="middle" fill="#111">10</text>
<line x1="521.8" y1="638.6" x2="521.8" y2="637.5" stroke="#222" stroke-width="0.6"/>
<line x1="535.8" y1="638.6" x2="535.8" y2="637.5" stroke="#222" stroke-width="0.6"/>
<line x1="549.8" y1="638.6" x2="549.8" y2="637.5" stroke="#222" stroke-width="0.6"/>
<line x1="563.8" y1="638.6" x2="563.8" y2="637.5" stroke="#222" stroke-width="0.6"/>
<line x1="577.8" y1="638.6" x2="577.8" y2="637.5" stroke="#222" stroke-width="0.6"/>
<line x1="591.8" y1="638.6" x2="591.8" y2="637.5" stroke="#222" stroke-width="0.6"/>
<line x1="605.8" y1="638.6" x2="605.8" y2="637.5" stroke="#222" stroke-width="0.6"/>
<line x1="619.8" y1="638.6" x2="619.8" y2="637.5" stroke="#222" stroke-width="0.6"/>
<line x1="633.8" y1="638.6" x2="633.8" y2="637.5" stroke="#222" stroke-width="0.6"/>
<line x1="647.8" y1="638.6" x2="647.8" y2="637.5" stroke="#222" stroke-width="0.6"/>
<text x="491.5" y="580" font-size="12.3" text-anchor="middle" fill="#111" transform="rotate(-90 491.5 580)">Length (<tspan font-style="italic">L</tspan>) (µm)</text>
<text x="588.5" y="667.5" font-size="12.3" text-anchor="middle" fill="#111">Cycles</text>
<text x="518.6" y="528.6" font-size="7.8"><tspan font-style="italic">H</tspan><tspan font-size="5.46" dy="2.34" font-style="italic">2</tspan><tspan dy="-2.34"> = 105 µm</tspan></text>
<line x1="519" y1="537.6" x2="536" y2="537.6" stroke="#111" stroke-width="0.9"/>
<rect x="525.3" y="535.2" width="4.8" height="4.8" fill="#111"/>
<text x="538.3" y="540.2" font-size="7.8"><tspan font-style="italic">H</tspan><tspan font-size="5.46" dy="2.34" font-style="italic">3</tspan><tspan dy="-2.34"> = 0 µm</tspan></text>
<line x1="580.2" y1="537.6" x2="597.1" y2="537.6" stroke="#ff2020" stroke-width="0.9"/>
<circle cx="588" cy="537.6" r="2.64" fill="#ff1a1a"/>
<text x="599.4" y="540.2" font-size="7.8">26 µm</text>
<line x1="519" y1="549" x2="536" y2="549" stroke="#1e7cff" stroke-width="0.9"/>
<polygon points="527.7,546.24 530.46,551.04 524.94,551.04" fill="#1e7cff"/>
<text x="538.3" y="551.6" font-size="7.8">50 µm</text>
<line x1="580.2" y1="549" x2="597.1" y2="549" stroke="#1ec81e" stroke-width="0.9"/>
<polygon points="588,551.76 590.76,546.96 585.24,546.96" fill="#1ec81e"/>
<text x="599.4" y="551.6" font-size="7.8">79 µm</text>
<defs>
<linearGradient id="gBowl" x1="0" y1="0" x2="1" y2="0.3">
 <stop offset="0" stop-color="#a8c08e"/><stop offset="0.5" stop-color="#bcd0a2"/><stop offset="1" stop-color="#d2e3ba"/>
</linearGradient>
<linearGradient id="gPil" x1="0" y1="0" x2="1" y2="0">
 <stop offset="0" stop-color="#b4ca98"/><stop offset="0.3" stop-color="#d2e2ba"/><stop offset="0.65" stop-color="#c2d6a6"/><stop offset="1" stop-color="#a8c090"/>
</linearGradient>
<linearGradient id="gHole" x1="0" y1="0" x2="1" y2="0.2">
 <stop offset="0" stop-color="#8aa272"/><stop offset="0.3" stop-color="#a6bd8e"/><stop offset="0.7" stop-color="#b8cca0"/><stop offset="1" stop-color="#d6e6bf"/>
</linearGradient>
<linearGradient id="gTilt" x1="0" y1="0.2" x2="1" y2="0">
 <stop offset="0" stop-color="#cfe0b8"/><stop offset="0.3" stop-color="#e6efd6"/><stop offset="0.65" stop-color="#c4d6aa"/><stop offset="1" stop-color="#a4ba8c"/>
</linearGradient>
<linearGradient id="gFemIn" x1="0" y1="0" x2="0.3" y2="1">
 <stop offset="0" stop-color="#1a64f8"/><stop offset="0.5" stop-color="#1c78ff"/><stop offset="1" stop-color="#1456ff"/>
</linearGradient>
<linearGradient id="gFemIn2" x1="0" y1="0" x2="1" y2="1">
 <stop offset="0" stop-color="#1a7cff"/><stop offset="0.35" stop-color="#30c8ff"/><stop offset="0.7" stop-color="#28a8ff"/><stop offset="1" stop-color="#1458ff"/>
</linearGradient>
<linearGradient id="gCylB" x1="0" y1="0" x2="1" y2="0">
 <stop offset="0" stop-color="#1010d8"/><stop offset="0.5" stop-color="#0808b8"/><stop offset="1" stop-color="#0a0aa0"/>
</linearGradient>
<linearGradient id="gDim" x1="0" y1="0.1" x2="1" y2="0.9">
 <stop offset="0" stop-color="#c81a10"/><stop offset="0.25" stop-color="#ff3a10"/><stop offset="0.42" stop-color="#ff8a10"/><stop offset="0.55" stop-color="#50e020"/><stop offset="0.72" stop-color="#10e060"/><stop offset="0.86" stop-color="#00b0c8"/><stop offset="1" stop-color="#0040b0"/>
</linearGradient>
<linearGradient id="gBarD" x1="0" y1="0" x2="0" y2="1">
 <stop offset="0" stop-color="#fff2f2"/><stop offset="0.05" stop-color="#ffe4e4"/><stop offset="0.12" stop-color="#ff9a9a"/><stop offset="0.24" stop-color="#ff0000"/><stop offset="0.33" stop-color="#ff7000"/><stop offset="0.41" stop-color="#ffee00"/><stop offset="0.46" stop-color="#aaee00"/><stop offset="0.51" stop-color="#00dd00"/><stop offset="0.58" stop-color="#00dd40"/><stop offset="0.68" stop-color="#00ffff"/><stop offset="0.78" stop-color="#0060ff"/><stop offset="0.89" stop-color="#0010a0"/><stop offset="1" stop-color="#000018"/>
</linearGradient>
<linearGradient id="gSlabF" x1="0" y1="0" x2="1" y2="0">
 <stop offset="0" stop-color="#2aa010"/><stop offset="0.5" stop-color="#3ea214"/><stop offset="1" stop-color="#58a818"/>
</linearGradient>
</defs>
<text x="46.3" y="17.8" font-size="10.2" fill="#111">Asymmetric scribing</text>
<text x="216.4" y="18.1" font-size="10.1" fill="#111">Recovering</text>
<rect x="6.8" y="21" width="73.1" height="48.6" fill="#e3f7b6"/>
<rect x="105.9" y="21" width="73" height="48.6" fill="#e5f9bb"/>
<rect x="206.9" y="21" width="73" height="48.6" fill="#e8fbc2"/>
<ellipse cx="42.65" cy="45.45" rx="20.55" ry="12.45" fill="url(#gBowl)"/>
<ellipse cx="45" cy="52.5" rx="12" ry="4.5" fill="#cfe0b6" opacity="0.6"/>
<path d="M36.1,38 L36.1,48.5 Q35.5,52.5 32.5,54.5 Q43,57.5 53.5,54.5 Q50.5,52.5 49.9,48.5 L49.9,38 Z" fill="url(#gPil)"/>
<ellipse cx="43" cy="38" rx="6.95" ry="3.45" fill="#eef9dc" stroke="#c4d6aa" stroke-width="0.4"/>
<line x1="57" y1="45.3" x2="75.7" y2="45.3" stroke="#222" stroke-width="0.8"/>
<line x1="57" y1="52.3" x2="75.7" y2="52.3" stroke="#222" stroke-width="0.8"/>
<line x1="64.8" y1="46.8" x2="64.8" y2="50.8" stroke="#222" stroke-width="0.6"/>
<polygon points="64.8,45.9 63.8,47.7 65.8,47.7" fill="#222"/>
<polygon points="64.8,51.7 63.8,49.9 65.8,49.9" fill="#222"/>
<text x="66.3" y="40.4" font-size="8" font-weight="bold" font-style="italic" fill="#111">H<tspan font-size="5.5" dy="1.8">2</tspan></text>
<text x="8.4" y="68.3" font-size="8.3" fill="#111">λ =1.67</text>
<path d="M82.6,45.4 Q92,41.6 99.5,43.8" fill="none" stroke="#000" stroke-width="1.5"/>
<polygon points="104.4,45 98.2,40.6 98.8,47.2" fill="#000"/>
<ellipse cx="142.5" cy="44.6" rx="22.2" ry="12" fill="url(#gHole)"/>
<ellipse cx="124.5" cy="45.5" rx="4.5" ry="7.5" fill="#8ba474" opacity="0.55"/>
<polygon points="121.4,37.5 130.2,31.5 142.4,52.6 132,55.2" fill="url(#gTilt)"/>
<line x1="130.2" y1="31.5" x2="142.4" y2="52.6" stroke="#7e9468" stroke-width="0.7"/>
<polygon points="152.2,23.8 159.4,23.8 155.6,45.8" fill="#ff0000"/>
<path d="M155.2,45 Q154.5,52.5 145.5,54.2" fill="none" stroke="#e82020" stroke-width="1"/>
<polygon points="142.3,54.6 146.2,52.2 146.4,56" fill="#e82020"/>
<path d="M154.6,46.2 Q153.8,43.8 151.2,42.8" fill="none" stroke="#e82020" stroke-width="0.9"/>
<polygon points="149.8,42.3 152.6,41.3 152,44.3" fill="#e82020"/>
<line x1="156.2" y1="52.3" x2="175.5" y2="52.3" stroke="#222" stroke-width="0.8"/>
<line x1="156.2" y1="56.4" x2="175.5" y2="56.4" stroke="#222" stroke-width="0.8"/>
<line x1="161.5" y1="46.3" x2="161.5" y2="62.4" stroke="#222" stroke-width="0.6"/>
<polygon points="161.5,52 160.5,49.8 162.5,49.8" fill="#222"/>
<polygon points="161.5,56.7 160.5,58.9 162.5,58.9" fill="#222"/>
<text x="167.2" y="48.6" font-size="8" font-weight="bold" font-style="italic" fill="#111">H<tspan font-size="5.5" dy="1.8">3</tspan></text>
<text x="107.2" y="68.3" font-size="8.3" fill="#111">λ =1.67</text>
<text x="192.9" y="36.7" font-size="7.1" text-anchor="middle" fill="#111">Release</text>
<path d="M183.6,45.6 Q192,42.6 200.5,44.3" fill="none" stroke="#3a86cc" stroke-width="1.6"/>
<polygon points="204.4,44.8 199.2,41.4 199.6,47" fill="#3a86cc"/>
<path d="M203.8,51.6 Q195,54.6 187,52.8" fill="none" stroke="#c81818" stroke-width="1.6"/>
<polygon points="183.3,52.6 188.4,49.4 188.2,55.2" fill="#c81818"/>
<text x="193.1" y="64.2" font-size="7.1" text-anchor="middle" fill="#111">Stretch</text>
<rect x="230" y="38" width="24" height="17" fill="#e5f8bd"/>
<ellipse cx="242.1" cy="46.9" rx="8.1" ry="3.3" fill="none" stroke="#9aac6c" stroke-width="0.6"/>
<text x="208.4" y="68.3" font-size="8.3" fill="#111">λ =1</text>
<rect x="6.8" y="86.7" width="72.9" height="48.5" fill="#0202e2"/>
<ellipse cx="42.7" cy="111.4" rx="29.5" ry="15.75" fill="#0e56f4"/>
<ellipse cx="42.4" cy="110.6" rx="21" ry="11.4" fill="url(#gFemIn)" stroke="#30e0ff" stroke-width="0.6"/>
<path d="M42,99.3 Q58,99.6 63.3,109.5 Q62.5,113 60,115 Q58,106 49,103.6 Q45,102.6 42,102.6 Z" fill="#16ccff"/>
<path d="M21.6,110 Q22.5,101.5 36,99.6 L36,103 Q27,104.5 24.5,112 Z" fill="#0e3cd8"/>
<ellipse cx="42.7" cy="116.8" rx="8.6" ry="3.4" fill="#0a24e8"/>
<rect x="36" y="103.3" width="13.4" height="13.5" fill="url(#gCylB)"/>
<ellipse cx="42.7" cy="103.3" rx="6.7" ry="3.4" fill="#0000f4"/>
<rect x="106.5" y="86.7" width="72.3" height="48.3" fill="#0202e2"/>
<ellipse cx="143.7" cy="111.3" rx="33.2" ry="18" fill="#0e56f4"/>
<ellipse cx="144" cy="109.8" rx="22.3" ry="11.5" fill="url(#gFemIn2)" stroke="#30e0ff" stroke-width="0.6"/>
<ellipse cx="150" cy="114.5" rx="13" ry="6" fill="#1456ff"/>
<ellipse cx="141.5" cy="107.5" rx="4.2" ry="1.8" fill="#30e040"/>
<ellipse cx="140.8" cy="107.5" rx="1.8" ry="1.1" fill="#ffd000"/>
<ellipse cx="140" cy="107.6" rx="0.9" ry="0.7" fill="#ff2000"/>
<path d="M122.1,104.4 L129.9,96.6 L146.4,113.1 Q145.5,119.5 138.6,120.9 Z" fill="url(#gCylB)"/>
<path d="M136.5,112.5 L146.4,113.1 Q145.5,119.5 138.6,120.9 L133.2,115.6 Z" fill="#0c0cb4"/>
<ellipse cx="126" cy="100.5" rx="5.6" ry="2.9" fill="#0808f6" stroke="#000090" stroke-width="0.4" transform="rotate(-45 126 100.5)"/>
<path d="M82.4,118.6 Q92,115.0 99.5,117.2" fill="none" stroke="#000" stroke-width="1.5"/>
<polygon points="104.3,118.4 98.2,114 98.8,120.6" fill="#000"/>
<path d="M183.6,107.8 Q192,104.8 200.5,106.5" fill="none" stroke="#3a86cc" stroke-width="1.6"/>
<polygon points="204.4,107 199.2,103.6 199.6,109.2" fill="#3a86cc"/>
<path d="M203.8,114.6 Q195,117.6 187,115.8" fill="none" stroke="#c81818" stroke-width="1.6"/>
<polygon points="183.3,115.6 188.4,112.4 188.2,118.2" fill="#c81818"/>
<rect x="207.1" y="86.9" width="72.3" height="48.1" fill="#0202e2"/>
<ellipse cx="241.9" cy="111.7" rx="8.1" ry="3.8" fill="none" stroke="#000070" stroke-width="0.8"/>
<rect x="285" y="84.2" width="6" height="4.17" fill="#ff0000"/>
<rect x="285" y="88.33" width="6" height="4.17" fill="#ff5c00"/>
<rect x="285" y="92.45" width="6" height="4.17" fill="#ffb900"/>
<rect x="285" y="96.58" width="6" height="4.17" fill="#e8ff00"/>
<rect x="285" y="100.7" width="6" height="4.17" fill="#8bff00"/>
<rect x="285" y="104.83" width="6" height="4.17" fill="#2eff00"/>
<rect x="285" y="108.95" width="6" height="4.17" fill="#00ff2e"/>
<rect x="285" y="113.07" width="6" height="4.17" fill="#00ff8b"/>
<rect x="285" y="117.2" width="6" height="4.17" fill="#00ffe8"/>
<rect x="285" y="121.32" width="6" height="4.17" fill="#00b9ff"/>
<rect x="285" y="125.45" width="6" height="4.17" fill="#005cff"/>
<rect x="285" y="129.57" width="6" height="4.17" fill="#0000ff"/>
<line x1="291.3" y1="84.2" x2="293" y2="84.2" stroke="#555" stroke-width="0.4"/>
<line x1="291.3" y1="88.33" x2="293" y2="88.33" stroke="#555" stroke-width="0.4"/>
<line x1="291.3" y1="92.45" x2="293" y2="92.45" stroke="#555" stroke-width="0.4"/>
<line x1="291.3" y1="96.58" x2="293" y2="96.58" stroke="#555" stroke-width="0.4"/>
<line x1="291.3" y1="100.7" x2="293" y2="100.7" stroke="#555" stroke-width="0.4"/>
<line x1="291.3" y1="104.83" x2="293" y2="104.83" stroke="#555" stroke-width="0.4"/>
<line x1="291.3" y1="108.95" x2="293" y2="108.95" stroke="#555" stroke-width="0.4"/>
<line x1="291.3" y1="113.07" x2="293" y2="113.07" stroke="#555" stroke-width="0.4"/>
<line x1="291.3" y1="117.2" x2="293" y2="117.2" stroke="#555" stroke-width="0.4"/>
<line x1="291.3" y1="121.32" x2="293" y2="121.32" stroke="#555" stroke-width="0.4"/>
<line x1="291.3" y1="125.45" x2="293" y2="125.45" stroke="#555" stroke-width="0.4"/>
<line x1="291.3" y1="129.57" x2="293" y2="129.57" stroke="#555" stroke-width="0.4"/>
<line x1="291.3" y1="133.7" x2="293" y2="133.7" stroke="#555" stroke-width="0.4"/>
<text x="297.2" y="80" font-size="5.9" text-anchor="middle" fill="#222">S. Mises (75%)</text>
<text x="295" y="85.6" font-size="5.6" fill="#222">+70.31</text>
<text x="295" y="98.2" font-size="5.6" fill="#222">+52.73</text>
<text x="295" y="110.8" font-size="5.6" fill="#222">+35.15</text>
<text x="295" y="123.4" font-size="5.6" fill="#222">+17.58</text>
<text x="295" y="136" font-size="5.6" fill="#222">+0.00</text>
<line x1="31.5" y1="168.4" x2="139" y2="190" stroke="#9a9a9a" stroke-width="0.5"/>
<line x1="18" y1="183.5" x2="31.5" y2="168.4" stroke="#9a9a9a" stroke-width="0.5"/>
<line x1="18" y1="183.5" x2="18" y2="198" stroke="#9a9a9a" stroke-width="0.5"/>
<line x1="18" y1="198" x2="131" y2="223.3" stroke="#9a9a9a" stroke-width="0.5"/>
<line x1="130.6" y1="223.2" x2="139" y2="190" stroke="#9a9a9a" stroke-width="0.5"/>
<line x1="31.5" y1="168.4" x2="31.5" y2="175" stroke="#9a9a9a" stroke-width="0.5"/>
<polygon points="31.8,174.8 138,196.4 131,215.5 18.7,190.5" fill="#a0b81a"/>
<polygon points="31.8,174.8 138,196.4 137.4,198 31.2,176.4" fill="#9ab214"/>
<ellipse cx="31.6" cy="183.2" rx="7.2" ry="5.2" fill="#7e9410"/>
<ellipse cx="32.5" cy="184.2" rx="7.3" ry="5.3" fill="#d4d010"/>
<path d="M32,183.6 L38.2,183.55 A6.2,4.4 0 0 1 38.09,184.41 Z" fill="#00b7dd"/>
<path d="M32,183.6 L38.12,184.32 A6.2,4.4 0 0 1 37.8,185.15 Z" fill="#0094d8"/>
<path d="M32,183.6 L37.85,185.06 A6.2,4.4 0 0 1 37.34,185.84 Z" fill="#0071d3"/>
<path d="M32,183.6 L37.4,185.76 A6.2,4.4 0 0 1 36.71,186.46 Z" fill="#005dcd"/>
<path d="M32,183.6 L36.79,186.39 A6.2,4.4 0 0 1 35.94,187 Z" fill="#0058c8"/>
<path d="M32,183.6 L36.03,186.94 A6.2,4.4 0 0 1 35.04,187.43 Z" fill="#0053c3"/>
<path d="M32,183.6 L35.16,187.39 A6.2,4.4 0 0 1 34.06,187.75 Z" fill="#006ac3"/>
<path d="M32,183.6 L34.18,187.72 A6.2,4.4 0 0 1 33.01,187.94 Z" fill="#009dca"/>
<path d="M32,183.6 L33.14,187.92 A6.2,4.4 0 0 1 31.94,188 Z" fill="#00d0d0"/>
<path d="M32,183.6 L32.06,188 A6.2,4.4 0 0 1 30.86,187.92 Z" fill="#0dd6a3"/>
<path d="M32,183.6 L30.99,187.94 A6.2,4.4 0 0 1 29.82,187.72 Z" fill="#1add76"/>
<path d="M32,183.6 L29.94,187.75 A6.2,4.4 0 0 1 28.84,187.39 Z" fill="#25e159"/>
<path d="M32,183.6 L28.96,187.43 A6.2,4.4 0 0 1 27.97,186.94 Z" fill="#2ee34b"/>
<path d="M32,183.6 L28.06,187 A6.2,4.4 0 0 1 27.21,186.39 Z" fill="#37e63e"/>
<path d="M32,183.6 L27.29,186.46 A6.2,4.4 0 0 1 26.6,185.76 Z" fill="#40e830"/>
<path d="M32,183.6 L26.66,185.84 A6.2,4.4 0 0 1 26.15,185.06 Z" fill="#6aeb29"/>
<path d="M32,183.6 L26.2,185.15 A6.2,4.4 0 0 1 25.88,184.32 Z" fill="#93ef22"/>
<path d="M32,183.6 L25.91,184.41 A6.2,4.4 0 0 1 25.8,183.55 Z" fill="#d0b020"/>
<path d="M32,183.6 L25.8,183.65 A6.2,4.4 0 0 1 25.91,182.79 Z" fill="#ff6320"/>
<path d="M32,183.6 L25.88,182.88 A6.2,4.4 0 0 1 26.2,182.05 Z" fill="#ff3720"/>
<path d="M32,183.6 L26.15,182.14 A6.2,4.4 0 0 1 26.66,181.36 Z" fill="#ff2b22"/>
<path d="M32,183.6 L26.6,181.44 A6.2,4.4 0 0 1 27.29,180.74 Z" fill="#ff2d26"/>
<path d="M32,183.6 L27.21,180.81 A6.2,4.4 0 0 1 28.06,180.2 Z" fill="#ff2f29"/>
<path d="M32,183.6 L27.97,180.26 A6.2,4.4 0 0 1 28.96,179.77 Z" fill="#ff312d"/>
<path d="M32,183.6 L28.84,179.81 A6.2,4.4 0 0 1 29.94,179.45 Z" fill="#ff3330"/>
<path d="M32,183.6 L29.82,179.48 A6.2,4.4 0 0 1 30.99,179.26 Z" fill="#ff3434"/>
<path d="M32,183.6 L30.86,179.28 A6.2,4.4 0 0 1 32.06,179.2 Z" fill="#de282e"/>
<path d="M32,183.6 L31.94,179.2 A6.2,4.4 0 0 1 33.14,179.28 Z" fill="#ae1623"/>
<path d="M32,183.6 L33.01,179.26 A6.2,4.4 0 0 1 34.18,179.48 Z" fill="#e21b20"/>
<path d="M32,183.6 L34.06,179.45 A6.2,4.4 0 0 1 35.16,179.81 Z" fill="#30e233"/>
<path d="M32,183.6 L35.04,179.77 A6.2,4.4 0 0 1 36.03,180.26 Z" fill="#30e63b"/>
<path d="M32,183.6 L35.94,180.2 A6.2,4.4 0 0 1 36.79,180.81 Z" fill="#30ea44"/>
<path d="M32,183.6 L36.71,180.74 A6.2,4.4 0 0 1 37.4,181.44 Z" fill="#30ee4c"/>
<path d="M32,183.6 L37.34,181.36 A6.2,4.4 0 0 1 37.85,182.14 Z" fill="#28e968"/>
<path d="M32,183.6 L37.8,182.05 A6.2,4.4 0 0 1 38.12,182.88 Z" fill="#18dc98"/>
<path d="M32,183.6 L38.09,182.79 A6.2,4.4 0 0 1 38.2,183.65 Z" fill="#08cfc8"/>
<path d="M26.11,182.28 A6.2,4.4 0 0 1 33.86,179.42" fill="none" stroke="#5a1420" stroke-width="1" opacity="0.75"/>
<ellipse cx="49.1" cy="186.9" rx="7.4" ry="5.4" fill="#7e9410"/>
<ellipse cx="50" cy="187.9" rx="7.5" ry="5.5" fill="#d4d010"/>
<path d="M49.5,187.3 L55.9,187.25 A6.4,4.6 0 0 1 55.79,188.15 Z" fill="#00b7dd"/>
<path d="M49.5,187.3 L55.81,188.05 A6.4,4.6 0 0 1 55.49,188.92 Z" fill="#0094d8"/>
<path d="M49.5,187.3 L55.54,188.83 A6.4,4.6 0 0 1 55.01,189.64 Z" fill="#0071d3"/>
<path d="M49.5,187.3 L55.08,189.56 A6.4,4.6 0 0 1 54.36,190.29 Z" fill="#005dcd"/>
<path d="M49.5,187.3 L54.45,190.22 A6.4,4.6 0 0 1 53.56,190.85 Z" fill="#0058c8"/>
<path d="M49.5,187.3 L53.66,190.79 A6.4,4.6 0 0 1 52.64,191.31 Z" fill="#0053c3"/>
<path d="M49.5,187.3 L52.76,191.26 A6.4,4.6 0 0 1 51.63,191.64 Z" fill="#006ac3"/>
<path d="M49.5,187.3 L51.75,191.61 A6.4,4.6 0 0 1 50.55,191.84 Z" fill="#009dca"/>
<path d="M49.5,187.3 L50.68,191.82 A6.4,4.6 0 0 1 49.43,191.9 Z" fill="#00d0d0"/>
<path d="M49.5,187.3 L49.57,191.9 A6.4,4.6 0 0 1 48.32,191.82 Z" fill="#0dd6a3"/>
<path d="M49.5,187.3 L48.45,191.84 A6.4,4.6 0 0 1 47.25,191.61 Z" fill="#1add76"/>
<path d="M49.5,187.3 L47.37,191.64 A6.4,4.6 0 0 1 46.24,191.26 Z" fill="#25e159"/>
<path d="M49.5,187.3 L46.36,191.31 A6.4,4.6 0 0 1 45.34,190.79 Z" fill="#2ee34b"/>
<path d="M49.5,187.3 L45.44,190.85 A6.4,4.6 0 0 1 44.55,190.22 Z" fill="#37e63e"/>
<path d="M49.5,187.3 L44.64,190.29 A6.4,4.6 0 0 1 43.92,189.56 Z" fill="#40e830"/>
<path d="M49.5,187.3 L43.99,189.64 A6.4,4.6 0 0 1 43.46,188.83 Z" fill="#6aeb29"/>
<path d="M49.5,187.3 L43.51,188.92 A6.4,4.6 0 0 1 43.19,188.05 Z" fill="#93ef22"/>
<path d="M49.5,187.3 L43.21,188.15 A6.4,4.6 0 0 1 43.1,187.25 Z" fill="#d0b020"/>
<path d="M49.5,187.3 L43.1,187.35 A6.4,4.6 0 0 1 43.21,186.45 Z" fill="#ff6320"/>
<path d="M49.5,187.3 L43.19,186.55 A6.4,4.6 0 0 1 43.51,185.68 Z" fill="#ff3720"/>
<path d="M49.5,187.3 L43.46,185.77 A6.4,4.6 0 0 1 43.99,184.96 Z" fill="#ff2b22"/>
<path d="M49.5,187.3 L43.92,185.04 A6.4,4.6 0 0 1 44.64,184.31 Z" fill="#ff2d26"/>
<path d="M49.5,187.3 L44.55,184.38 A6.4,4.6 0 0 1 45.44,183.75 Z" fill="#ff2f29"/>
<path d="M49.5,187.3 L45.34,183.81 A6.4,4.6 0 0 1 46.36,183.29 Z" fill="#ff312d"/>
<path d="M49.5,187.3 L46.24,183.34 A6.4,4.6 0 0 1 47.37,182.96 Z" fill="#ff3330"/>
<path d="M49.5,187.3 L47.25,182.99 A6.4,4.6 0 0 1 48.45,182.76 Z" fill="#ff3434"/>
<path d="M49.5,187.3 L48.32,182.78 A6.4,4.6 0 0 1 49.57,182.7 Z" fill="#de282e"/>
<path d="M49.5,187.3 L49.43,182.7 A6.4,4.6 0 0 1 50.68,182.78 Z" fill="#ae1623"/>
<path d="M49.5,187.3 L50.55,182.76 A6.4,4.6 0 0 1 51.75,182.99 Z" fill="#e21b20"/>
<path d="M49.5,187.3 L51.63,182.96 A6.4,4.6 0 0 1 52.76,183.34 Z" fill="#30e233"/>
<path d="M49.5,187.3 L52.64,183.29 A6.4,4.6 0 0 1 53.66,183.81 Z" fill="#30e63b"/>
<path d="M49.5,187.3 L53.56,183.75 A6.4,4.6 0 0 1 54.45,184.38 Z" fill="#30ea44"/>
<path d="M49.5,187.3 L54.36,184.31 A6.4,4.6 0 0 1 55.08,185.04 Z" fill="#30ee4c"/>
<path d="M49.5,187.3 L55.01,184.96 A6.4,4.6 0 0 1 55.54,185.77 Z" fill="#28e968"/>
<path d="M49.5,187.3 L55.49,185.68 A6.4,4.6 0 0 1 55.81,186.55 Z" fill="#18dc98"/>
<path d="M49.5,187.3 L55.79,186.45 A6.4,4.6 0 0 1 55.9,187.35 Z" fill="#08cfc8"/>
<path d="M43.42,185.92 A6.4,4.6 0 0 1 51.42,182.93" fill="none" stroke="#5a1420" stroke-width="1" opacity="0.75"/>
<ellipse cx="67.1" cy="190.4" rx="7.6" ry="5.6" fill="#7e9410"/>
<ellipse cx="68" cy="191.4" rx="7.7" ry="5.7" fill="#d4d010"/>
<path d="M67.5,190.8 L74.1,190.75 A6.6,4.8 0 0 1 73.99,191.68 Z" fill="#00b7dd"/>
<path d="M67.5,190.8 L74.01,191.58 A6.6,4.8 0 0 1 73.68,192.49 Z" fill="#0094d8"/>
<path d="M67.5,190.8 L73.73,192.39 A6.6,4.8 0 0 1 73.18,193.24 Z" fill="#0071d3"/>
<path d="M67.5,190.8 L73.25,193.16 A6.6,4.8 0 0 1 72.51,193.92 Z" fill="#005dcd"/>
<path d="M67.5,190.8 L72.6,193.85 A6.6,4.8 0 0 1 71.69,194.51 Z" fill="#0058c8"/>
<path d="M67.5,190.8 L71.8,194.44 A6.6,4.8 0 0 1 70.74,194.98 Z" fill="#0053c3"/>
<path d="M67.5,190.8 L70.86,194.93 A6.6,4.8 0 0 1 69.69,195.33 Z" fill="#006ac3"/>
<path d="M67.5,190.8 L69.82,195.29 A6.6,4.8 0 0 1 68.58,195.54 Z" fill="#009dca"/>
<path d="M67.5,190.8 L68.71,195.52 A6.6,4.8 0 0 1 67.43,195.6 Z" fill="#00d0d0"/>
<path d="M67.5,190.8 L67.57,195.6 A6.6,4.8 0 0 1 66.29,195.52 Z" fill="#0dd6a3"/>
<path d="M67.5,190.8 L66.42,195.54 A6.6,4.8 0 0 1 65.18,195.29 Z" fill="#1add76"/>
<path d="M67.5,190.8 L65.31,195.33 A6.6,4.8 0 0 1 64.14,194.93 Z" fill="#25e159"/>
<path d="M67.5,190.8 L64.26,194.98 A6.6,4.8 0 0 1 63.2,194.44 Z" fill="#2ee34b"/>
<path d="M67.5,190.8 L63.31,194.51 A6.6,4.8 0 0 1 62.4,193.85 Z" fill="#37e63e"/>
<path d="M67.5,190.8 L62.49,193.92 A6.6,4.8 0 0 1 61.75,193.16 Z" fill="#40e830"/>
<path d="M67.5,190.8 L61.82,193.24 A6.6,4.8 0 0 1 61.27,192.39 Z" fill="#6aeb29"/>
<path d="M67.5,190.8 L61.32,192.49 A6.6,4.8 0 0 1 60.99,191.58 Z" fill="#93ef22"/>
<path d="M67.5,190.8 L61.01,191.68 A6.6,4.8 0 0 1 60.9,190.75 Z" fill="#d0b020"/>
<path d="M67.5,190.8 L60.9,190.85 A6.6,4.8 0 0 1 61.01,189.92 Z" fill="#ff6320"/>
<path d="M67.5,190.8 L60.99,190.02 A6.6,4.8 0 0 1 61.32,189.11 Z" fill="#ff3720"/>
<path d="M67.5,190.8 L61.27,189.21 A6.6,4.8 0 0 1 61.82,188.36 Z" fill="#ff2b22"/>
<path d="M67.5,190.8 L61.75,188.44 A6.6,4.8 0 0 1 62.49,187.68 Z" fill="#ff2d26"/>
<path d="M67.5,190.8 L62.4,187.75 A6.6,4.8 0 0 1 63.31,187.09 Z" fill="#ff2f29"/>
<path d="M67.5,190.8 L63.2,187.16 A6.6,4.8 0 0 1 64.26,186.62 Z" fill="#ff312d"/>
<path d="M67.5,190.8 L64.14,186.67 A6.6,4.8 0 0 1 65.31,186.27 Z" fill="#ff3330"/>
<path d="M67.5,190.8 L65.18,186.31 A6.6,4.8 0 0 1 66.42,186.06 Z" fill="#ff3434"/>
<path d="M67.5,190.8 L66.29,186.08 A6.6,4.8 0 0 1 67.57,186 Z" fill="#de282e"/>
<path d="M67.5,190.8 L67.43,186 A6.6,4.8 0 0 1 68.71,186.08 Z" fill="#ae1623"/>
<path d="M67.5,190.8 L68.58,186.06 A6.6,4.8 0 0 1 69.82,186.31 Z" fill="#e21b20"/>
<path d="M67.5,190.8 L69.69,186.27 A6.6,4.8 0 0 1 70.86,186.67 Z" fill="#30e233"/>
<path d="M67.5,190.8 L70.74,186.62 A6.6,4.8 0 0 1 71.8,187.16 Z" fill="#30e63b"/>
<path d="M67.5,190.8 L71.69,187.09 A6.6,4.8 0 0 1 72.6,187.75 Z" fill="#30ea44"/>
<path d="M67.5,190.8 L72.51,187.68 A6.6,4.8 0 0 1 73.25,188.44 Z" fill="#30ee4c"/>
<path d="M67.5,190.8 L73.18,188.36 A6.6,4.8 0 0 1 73.73,189.21 Z" fill="#28e968"/>
<path d="M67.5,190.8 L73.68,189.11 A6.6,4.8 0 0 1 74.01,190.02 Z" fill="#18dc98"/>
<path d="M67.5,190.8 L73.99,189.92 A6.6,4.8 0 0 1 74.1,190.85 Z" fill="#08cfc8"/>
<path d="M61.23,189.36 A6.6,4.8 0 0 1 69.48,186.24" fill="none" stroke="#5a1420" stroke-width="1" opacity="0.75"/>
<ellipse cx="85.1" cy="194.3" rx="8" ry="5.8" fill="#7e9410"/>
<ellipse cx="86" cy="195.3" rx="8.1" ry="5.9" fill="#d4d010"/>
<path d="M85.5,194.7 L92.5,194.65 A7,5 0 0 1 92.38,195.62 Z" fill="#00b7dd"/>
<path d="M85.5,194.7 L92.41,195.52 A7,5 0 0 1 92.05,196.46 Z" fill="#0094d8"/>
<path d="M85.5,194.7 L92.1,196.36 A7,5 0 0 1 91.53,197.25 Z" fill="#0071d3"/>
<path d="M85.5,194.7 L91.6,197.15 A7,5 0 0 1 90.81,197.95 Z" fill="#005dcd"/>
<path d="M85.5,194.7 L90.91,197.87 A7,5 0 0 1 89.94,198.56 Z" fill="#0058c8"/>
<path d="M85.5,194.7 L90.06,198.5 A7,5 0 0 1 88.94,199.06 Z" fill="#0053c3"/>
<path d="M85.5,194.7 L89.06,199 A7,5 0 0 1 87.83,199.42 Z" fill="#006ac3"/>
<path d="M85.5,194.7 L87.96,199.38 A7,5 0 0 1 86.64,199.63 Z" fill="#009dca"/>
<path d="M85.5,194.7 L86.79,199.61 A7,5 0 0 1 85.43,199.7 Z" fill="#00d0d0"/>
<path d="M85.5,194.7 L85.57,199.7 A7,5 0 0 1 84.21,199.61 Z" fill="#0dd6a3"/>
<path d="M85.5,194.7 L84.36,199.63 A7,5 0 0 1 83.04,199.38 Z" fill="#1add76"/>
<path d="M85.5,194.7 L83.17,199.42 A7,5 0 0 1 81.94,199 Z" fill="#25e159"/>
<path d="M85.5,194.7 L82.06,199.06 A7,5 0 0 1 80.94,198.5 Z" fill="#2ee34b"/>
<path d="M85.5,194.7 L81.06,198.56 A7,5 0 0 1 80.09,197.87 Z" fill="#37e63e"/>
<path d="M85.5,194.7 L80.19,197.95 A7,5 0 0 1 79.4,197.15 Z" fill="#40e830"/>
<path d="M85.5,194.7 L79.47,197.25 A7,5 0 0 1 78.9,196.36 Z" fill="#6aeb29"/>
<path d="M85.5,194.7 L78.95,196.46 A7,5 0 0 1 78.59,195.52 Z" fill="#93ef22"/>
<path d="M85.5,194.7 L78.62,195.62 A7,5 0 0 1 78.5,194.65 Z" fill="#d0b020"/>
<path d="M85.5,194.7 L78.5,194.75 A7,5 0 0 1 78.62,193.78 Z" fill="#ff6320"/>
<path d="M85.5,194.7 L78.59,193.88 A7,5 0 0 1 78.95,192.94 Z" fill="#ff3720"/>
<path d="M85.5,194.7 L78.9,193.04 A7,5 0 0 1 79.47,192.15 Z" fill="#ff2b22"/>
<path d="M85.5,194.7 L79.4,192.25 A7,5 0 0 1 80.19,191.45 Z" fill="#ff2d26"/>
<path d="M85.5,194.7 L80.09,191.53 A7,5 0 0 1 81.06,190.84 Z" fill="#ff2f29"/>
<path d="M85.5,194.7 L80.94,190.9 A7,5 0 0 1 82.06,190.34 Z" fill="#ff312d"/>
<path d="M85.5,194.7 L81.94,190.4 A7,5 0 0 1 83.17,189.98 Z" fill="#ff3330"/>
<path d="M85.5,194.7 L83.04,190.02 A7,5 0 0 1 84.36,189.77 Z" fill="#ff3434"/>
<path d="M85.5,194.7 L84.21,189.79 A7,5 0 0 1 85.57,189.7 Z" fill="#de282e"/>
<path d="M85.5,194.7 L85.43,189.7 A7,5 0 0 1 86.79,189.79 Z" fill="#ae1623"/>
<path d="M85.5,194.7 L86.64,189.77 A7,5 0 0 1 87.96,190.02 Z" fill="#e21b20"/>
<path d="M85.5,194.7 L87.83,189.98 A7,5 0 0 1 89.06,190.4 Z" fill="#30e233"/>
<path d="M85.5,194.7 L88.94,190.34 A7,5 0 0 1 90.06,190.9 Z" fill="#30e63b"/>
<path d="M85.5,194.7 L89.94,190.84 A7,5 0 0 1 90.91,191.53 Z" fill="#30ea44"/>
<path d="M85.5,194.7 L90.81,191.45 A7,5 0 0 1 91.6,192.25 Z" fill="#30ee4c"/>
<path d="M85.5,194.7 L91.53,192.15 A7,5 0 0 1 92.1,193.04 Z" fill="#28e968"/>
<path d="M85.5,194.7 L92.05,192.94 A7,5 0 0 1 92.41,193.88 Z" fill="#18dc98"/>
<path d="M85.5,194.7 L92.38,193.78 A7,5 0 0 1 92.5,194.75 Z" fill="#08cfc8"/>
<path d="M78.85,193.2 A7,5 0 0 1 87.6,189.95" fill="none" stroke="#5a1420" stroke-width="1" opacity="0.75"/>
<ellipse cx="104.2" cy="197.9" rx="8.3" ry="5.9" fill="#7e9410"/>
<ellipse cx="105.1" cy="198.9" rx="8.4" ry="6" fill="#d4d010"/>
<path d="M104.6,198.3 L111.9,198.25 A7.3,5.1 0 0 1 111.78,199.24 Z" fill="#00b7dd"/>
<path d="M104.6,198.3 L111.8,199.13 A7.3,5.1 0 0 1 111.43,200.09 Z" fill="#0094d8"/>
<path d="M104.6,198.3 L111.49,199.99 A7.3,5.1 0 0 1 110.88,200.9 Z" fill="#0071d3"/>
<path d="M104.6,198.3 L110.96,200.8 A7.3,5.1 0 0 1 110.14,201.62 Z" fill="#005dcd"/>
<path d="M104.6,198.3 L110.24,201.54 A7.3,5.1 0 0 1 109.23,202.24 Z" fill="#0058c8"/>
<path d="M104.6,198.3 L109.35,202.17 A7.3,5.1 0 0 1 108.18,202.74 Z" fill="#0053c3"/>
<path d="M104.6,198.3 L108.32,202.69 A7.3,5.1 0 0 1 107.02,203.11 Z" fill="#006ac3"/>
<path d="M104.6,198.3 L107.17,203.07 A7.3,5.1 0 0 1 105.79,203.33 Z" fill="#009dca"/>
<path d="M104.6,198.3 L105.94,203.31 A7.3,5.1 0 0 1 104.52,203.4 Z" fill="#00d0d0"/>
<path d="M104.6,198.3 L104.68,203.4 A7.3,5.1 0 0 1 103.26,203.31 Z" fill="#0dd6a3"/>
<path d="M104.6,198.3 L103.41,203.33 A7.3,5.1 0 0 1 102.03,203.07 Z" fill="#1add76"/>
<path d="M104.6,198.3 L102.18,203.11 A7.3,5.1 0 0 1 100.88,202.69 Z" fill="#25e159"/>
<path d="M104.6,198.3 L101.02,202.74 A7.3,5.1 0 0 1 99.85,202.17 Z" fill="#2ee34b"/>
<path d="M104.6,198.3 L99.97,202.24 A7.3,5.1 0 0 1 98.96,201.54 Z" fill="#37e63e"/>
<path d="M104.6,198.3 L99.06,201.62 A7.3,5.1 0 0 1 98.24,200.8 Z" fill="#40e830"/>
<path d="M104.6,198.3 L98.32,200.9 A7.3,5.1 0 0 1 97.71,199.99 Z" fill="#6aeb29"/>
<path d="M104.6,198.3 L97.77,200.09 A7.3,5.1 0 0 1 97.4,199.13 Z" fill="#93ef22"/>
<path d="M104.6,198.3 L97.42,199.24 A7.3,5.1 0 0 1 97.3,198.25 Z" fill="#d0b020"/>
<path d="M104.6,198.3 L97.3,198.35 A7.3,5.1 0 0 1 97.42,197.36 Z" fill="#ff6320"/>
<path d="M104.6,198.3 L97.4,197.47 A7.3,5.1 0 0 1 97.77,196.51 Z" fill="#ff3720"/>
<path d="M104.6,198.3 L97.71,196.61 A7.3,5.1 0 0 1 98.32,195.7 Z" fill="#ff2b22"/>
<path d="M104.6,198.3 L98.24,195.8 A7.3,5.1 0 0 1 99.06,194.98 Z" fill="#ff2d26"/>
<path d="M104.6,198.3 L98.96,195.06 A7.3,5.1 0 0 1 99.97,194.36 Z" fill="#ff2f29"/>
<path d="M104.6,198.3 L99.85,194.43 A7.3,5.1 0 0 1 101.02,193.86 Z" fill="#ff312d"/>
<path d="M104.6,198.3 L100.88,193.91 A7.3,5.1 0 0 1 102.18,193.49 Z" fill="#ff3330"/>
<path d="M104.6,198.3 L102.03,193.53 A7.3,5.1 0 0 1 103.41,193.27 Z" fill="#ff3434"/>
<path d="M104.6,198.3 L103.26,193.29 A7.3,5.1 0 0 1 104.68,193.2 Z" fill="#de282e"/>
<path d="M104.6,198.3 L104.52,193.2 A7.3,5.1 0 0 1 105.94,193.29 Z" fill="#ae1623"/>
<path d="M104.6,198.3 L105.79,193.27 A7.3,5.1 0 0 1 107.17,193.53 Z" fill="#e21b20"/>
<path d="M104.6,198.3 L107.02,193.49 A7.3,5.1 0 0 1 108.32,193.91 Z" fill="#30e233"/>
<path d="M104.6,198.3 L108.18,193.86 A7.3,5.1 0 0 1 109.35,194.43 Z" fill="#30e63b"/>
<path d="M104.6,198.3 L109.23,194.36 A7.3,5.1 0 0 1 110.24,195.06 Z" fill="#30ea44"/>
<path d="M104.6,198.3 L110.14,194.98 A7.3,5.1 0 0 1 110.96,195.8 Z" fill="#30ee4c"/>
<path d="M104.6,198.3 L110.88,195.7 A7.3,5.1 0 0 1 111.49,196.61 Z" fill="#28e968"/>
<path d="M104.6,198.3 L111.43,196.51 A7.3,5.1 0 0 1 111.8,197.47 Z" fill="#18dc98"/>
<path d="M104.6,198.3 L111.78,197.36 A7.3,5.1 0 0 1 111.9,198.35 Z" fill="#08cfc8"/>
<path d="M97.66,196.77 A7.3,5.1 0 0 1 106.79,193.46" fill="none" stroke="#5a1420" stroke-width="1" opacity="0.75"/>
<ellipse cx="123.9" cy="202" rx="8.7" ry="6" fill="#7e9410"/>
<ellipse cx="124.8" cy="203" rx="8.8" ry="6.1" fill="#d4d010"/>
<path d="M124.3,202.4 L132,202.35 A7.7,5.2 0 0 1 131.87,203.36 Z" fill="#00b7dd"/>
<path d="M124.3,202.4 L131.9,203.25 A7.7,5.2 0 0 1 131.51,204.23 Z" fill="#0094d8"/>
<path d="M124.3,202.4 L131.56,204.13 A7.7,5.2 0 0 1 130.93,205.05 Z" fill="#0071d3"/>
<path d="M124.3,202.4 L131.01,204.95 A7.7,5.2 0 0 1 130.15,205.78 Z" fill="#005dcd"/>
<path d="M124.3,202.4 L130.25,205.7 A7.7,5.2 0 0 1 129.19,206.42 Z" fill="#0058c8"/>
<path d="M124.3,202.4 L129.31,206.35 A7.7,5.2 0 0 1 128.08,206.93 Z" fill="#0053c3"/>
<path d="M124.3,202.4 L128.22,206.88 A7.7,5.2 0 0 1 126.86,207.3 Z" fill="#006ac3"/>
<path d="M124.3,202.4 L127.01,207.27 A7.7,5.2 0 0 1 125.56,207.53 Z" fill="#009dca"/>
<path d="M124.3,202.4 L125.72,207.51 A7.7,5.2 0 0 1 124.22,207.6 Z" fill="#00d0d0"/>
<path d="M124.3,202.4 L124.38,207.6 A7.7,5.2 0 0 1 122.88,207.51 Z" fill="#0dd6a3"/>
<path d="M124.3,202.4 L123.04,207.53 A7.7,5.2 0 0 1 121.59,207.27 Z" fill="#1add76"/>
<path d="M124.3,202.4 L121.74,207.3 A7.7,5.2 0 0 1 120.38,206.88 Z" fill="#25e159"/>
<path d="M124.3,202.4 L120.52,206.93 A7.7,5.2 0 0 1 119.29,206.35 Z" fill="#2ee34b"/>
<path d="M124.3,202.4 L119.41,206.42 A7.7,5.2 0 0 1 118.35,205.7 Z" fill="#37e63e"/>
<path d="M124.3,202.4 L118.45,205.78 A7.7,5.2 0 0 1 117.59,204.95 Z" fill="#40e830"/>
<path d="M124.3,202.4 L117.67,205.05 A7.7,5.2 0 0 1 117.04,204.13 Z" fill="#6aeb29"/>
<path d="M124.3,202.4 L117.09,204.23 A7.7,5.2 0 0 1 116.7,203.25 Z" fill="#93ef22"/>
<path d="M124.3,202.4 L116.73,203.36 A7.7,5.2 0 0 1 116.6,202.35 Z" fill="#d0b020"/>
<path d="M124.3,202.4 L116.6,202.45 A7.7,5.2 0 0 1 116.73,201.44 Z" fill="#ff6320"/>
<path d="M124.3,202.4 L116.7,201.55 A7.7,5.2 0 0 1 117.09,200.57 Z" fill="#ff3720"/>
<path d="M124.3,202.4 L117.04,200.67 A7.7,5.2 0 0 1 117.67,199.75 Z" fill="#ff2b22"/>
<path d="M124.3,202.4 L117.59,199.85 A7.7,5.2 0 0 1 118.45,199.02 Z" fill="#ff2d26"/>
<path d="M124.3,202.4 L118.35,199.1 A7.7,5.2 0 0 1 119.41,198.38 Z" fill="#ff2f29"/>
<path d="M124.3,202.4 L119.29,198.45 A7.7,5.2 0 0 1 120.52,197.87 Z" fill="#ff312d"/>
<path d="M124.3,202.4 L120.38,197.92 A7.7,5.2 0 0 1 121.74,197.5 Z" fill="#ff3330"/>
<path d="M124.3,202.4 L121.59,197.53 A7.7,5.2 0 0 1 123.04,197.27 Z" fill="#ff3434"/>
<path d="M124.3,202.4 L122.88,197.29 A7.7,5.2 0 0 1 124.38,197.2 Z" fill="#de282e"/>
<path d="M124.3,202.4 L124.22,197.2 A7.7,5.2 0 0 1 125.72,197.29 Z" fill="#ae1623"/>
<path d="M124.3,202.4 L125.56,197.27 A7.7,5.2 0 0 1 127.01,197.53 Z" fill="#e21b20"/>
<path d="M124.3,202.4 L126.86,197.5 A7.7,5.2 0 0 1 128.22,197.92 Z" fill="#30e233"/>
<path d="M124.3,202.4 L128.08,197.87 A7.7,5.2 0 0 1 129.31,198.45 Z" fill="#30e63b"/>
<path d="M124.3,202.4 L129.19,198.38 A7.7,5.2 0 0 1 130.25,199.1 Z" fill="#30ea44"/>
<path d="M124.3,202.4 L130.15,199.02 A7.7,5.2 0 0 1 131.01,199.85 Z" fill="#30ee4c"/>
<path d="M124.3,202.4 L130.93,199.75 A7.7,5.2 0 0 1 131.56,200.67 Z" fill="#28e968"/>
<path d="M124.3,202.4 L131.51,200.57 A7.7,5.2 0 0 1 131.9,201.55 Z" fill="#18dc98"/>
<path d="M124.3,202.4 L131.87,201.44 A7.7,5.2 0 0 1 132,202.45 Z" fill="#08cfc8"/>
<path d="M116.98,200.84 A7.7,5.2 0 0 1 126.61,197.46" fill="none" stroke="#5a1420" stroke-width="1" opacity="0.75"/>
<line x1="16.3" y1="184" x2="16.3" y2="176" stroke="#222" stroke-width="0.6"/>
<polygon points="16.3,174.5 15.3,177.5 17.3,177.5" fill="#222"/>
<line x1="131" y1="223.4" x2="140.5" y2="225.6" stroke="#222" stroke-width="0.5"/>
<polygon points="143.2,226.4 136.2,224 136.6,226" fill="#222"/>
<text x="14.4" y="207.1" font-size="6.8" fill="#222">0</text>
<text x="17.2" y="219.7" font-size="8.3" fill="#111" font-weight="bold">Stretch, λ=1.67</text>
<text x="139.6" y="207.4" font-size="6.8" fill="#222">1265.7 µm</text>
<text x="112.3" y="234.6" font-size="6.8" fill="#222">4739.6 µm</text>
<rect x="176.4" y="161.6" width="4.4" height="66.3" fill="url(#gBarD)"/>
<line x1="180.8" y1="190.3" x2="182.3" y2="190.3" stroke="#444" stroke-width="0.5"/>
<text x="182.7" y="159.2" font-size="6.8" text-anchor="middle" fill="#222">277.5 µm</text>
<text x="184.5" y="192.8" font-size="6.8" fill="#222">0</text>
<text x="182.2" y="235.8" font-size="6.8" text-anchor="middle" fill="#222">-382.7 µm</text>
<line x1="18.2" y1="292" x2="18.2" y2="286" stroke="#222" stroke-width="0.6"/>
<polygon points="18.2,284.2 17.2,287.2 19.2,287.2" fill="#222"/>
<line x1="29.8" y1="279.6" x2="33" y2="276.8" stroke="#222" stroke-width="0.6"/>
<polygon points="34.6,275.4 31.5,276.4 33.2,278.4" fill="#222"/>
<polygon points="29.9,279.6 137.8,302.1 132.3,317 19.3,292.4" fill="url(#gSlabF)"/>
<ellipse cx="37.4" cy="288.1" rx="5.6" ry="3.5" fill="none" stroke="#94ae24" stroke-width="0.6"/>
<ellipse cx="37.4" cy="288.1" rx="4.2" ry="2.6" fill="none" stroke="#1c9c6a" stroke-width="0.6"/>
<ellipse cx="37.4" cy="288.1" rx="3.1" ry="1.9" fill="#cc8a26"/>
<ellipse cx="52.7" cy="291.6" rx="5.94" ry="3.71" fill="none" stroke="#94ae24" stroke-width="0.6"/>
<ellipse cx="52.7" cy="291.6" rx="4.45" ry="2.76" fill="none" stroke="#1c9c6a" stroke-width="0.6"/>
<ellipse cx="52.7" cy="291.6" rx="3.29" ry="2.01" fill="#cc8a26"/>
<ellipse cx="69" cy="295.2" rx="6.27" ry="3.92" fill="none" stroke="#94ae24" stroke-width="0.6"/>
<ellipse cx="69" cy="295.2" rx="4.7" ry="2.91" fill="none" stroke="#1c9c6a" stroke-width="0.6"/>
<ellipse cx="69" cy="295.2" rx="3.47" ry="2.13" fill="#cc8a26"/>
<ellipse cx="85.6" cy="298.9" rx="6.61" ry="4.13" fill="none" stroke="#94ae24" stroke-width="0.6"/>
<ellipse cx="85.6" cy="298.9" rx="4.96" ry="3.07" fill="none" stroke="#1c9c6a" stroke-width="0.6"/>
<ellipse cx="85.6" cy="298.9" rx="3.66" ry="2.24" fill="#c42c12"/>
<ellipse cx="102.8" cy="302.6" rx="6.94" ry="4.34" fill="none" stroke="#94ae24" stroke-width="0.6"/>
<ellipse cx="102.8" cy="302.6" rx="5.21" ry="3.22" fill="none" stroke="#1c9c6a" stroke-width="0.6"/>
<ellipse cx="102.8" cy="302.6" rx="3.84" ry="2.36" fill="#c42c12"/>
<ellipse cx="120" cy="306.1" rx="7.28" ry="4.55" fill="none" stroke="#94ae24" stroke-width="0.6"/>
<ellipse cx="120" cy="306.1" rx="5.46" ry="3.38" fill="none" stroke="#1c9c6a" stroke-width="0.6"/>
<ellipse cx="120" cy="306.1" rx="4.03" ry="2.47" fill="#c42c12"/>
<line x1="132.3" y1="317" x2="141" y2="320.2" stroke="#222" stroke-width="0.5"/>
<polygon points="143.6,321.2 140,318.8 139.6,321.6" fill="#222"/>
<text x="16.4" y="301.8" font-size="6.8" fill="#222">0</text>
<text x="18.3" y="328.6" font-size="8.35" fill="#111" font-weight="bold">Release, λ =1</text>
<text x="142" y="311.2" font-size="6.8" fill="#222">637.4 µm</text>
<text x="128.5" y="329.3" font-size="6.8" text-anchor="middle" fill="#222">2973.6 µm</text>
<rect x="175.7" y="263.7" width="4.9" height="66.1" fill="url(#gBarD)"/>
<line x1="180.6" y1="292" x2="182.1" y2="292" stroke="#444" stroke-width="0.5"/>
<text x="180.6" y="261.6" font-size="6.8" text-anchor="middle" fill="#222">10.0 µm</text>
<text x="184.5" y="294.4" font-size="6.8" fill="#222">0</text>
<text x="181.6" y="337.7" font-size="6.8" text-anchor="middle" fill="#222">11.2 µm</text>
</svg>
</body></html>
